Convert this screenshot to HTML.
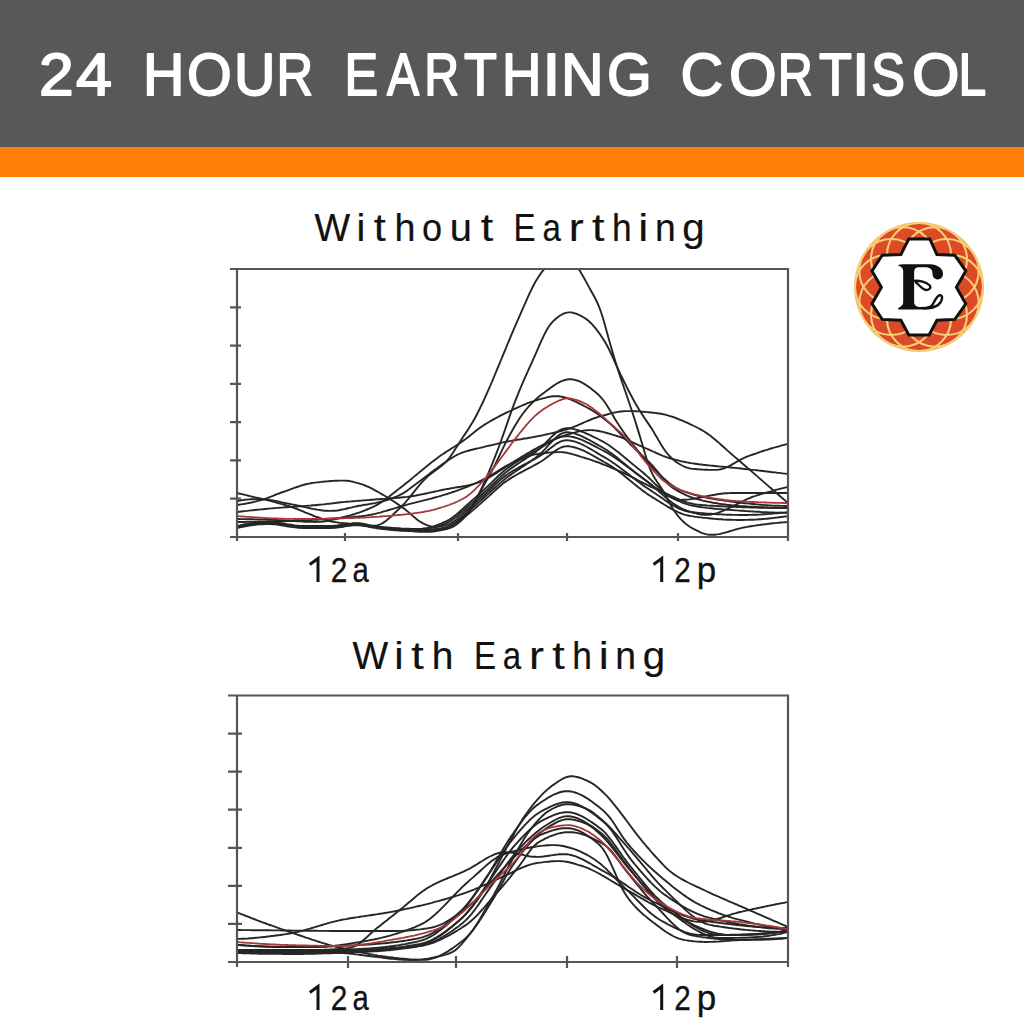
<!DOCTYPE html>
<html><head><meta charset="utf-8">
<style>
html,body{margin:0;padding:0;background:#fff;}
body{width:1024px;height:1024px;overflow:hidden;position:relative;}
svg{position:absolute;left:0;top:0;}
</style></head>
<body>
<svg width="1024" height="1024" viewBox="0 0 1024 1024">
<defs>
<clipPath id="lc"><circle cx="919" cy="287" r="64"/></clipPath>
</defs>
<rect x="0" y="0" width="1024" height="1024" fill="#fff"/>
<rect x="0" y="0" width="1024" height="147" fill="#585858"/>
<rect x="0" y="147" width="1024" height="30" fill="#fd7f05"/>
<g font-family="'Liberation Sans', sans-serif" font-size="59" fill="#fff" stroke="#fff" stroke-width="1.8" stroke-linejoin="round">
<text transform="translate(38.9,95) scale(1.057,1)">2</text>
<text transform="translate(75.9,95) scale(1.097,1)">4</text>
<text transform="translate(143.1,95) scale(0.971,1)">H</text>
<text transform="translate(187.0,95) scale(0.976,1)">O</text>
<text transform="translate(234.1,95) scale(0.971,1)">U</text>
<text transform="translate(276.6,95) scale(0.861,1)">R</text>
<text transform="translate(344.4,95) scale(0.855,1)">E</text>
<text transform="translate(387.0,95) scale(0.817,1)">A</text>
<text transform="translate(424.2,95) scale(0.819,1)">R</text>
<text transform="translate(464.1,95) scale(0.912,1)">T</text>
<text transform="translate(501.9,95) scale(0.924,1)">H</text>
<text transform="translate(542.6,95) scale(1.086,1)">I</text>
<text transform="translate(561.0,95) scale(1.000,1)">N</text>
<text transform="translate(607.0,95) scale(0.975,1)">G</text>
<text transform="translate(680.5,95) scale(1.003,1)">C</text>
<text transform="translate(728.9,95) scale(1.040,1)">O</text>
<text transform="translate(777.7,95) scale(0.822,1)">R</text>
<text transform="translate(819.1,95) scale(0.912,1)">T</text>
<text transform="translate(852.1,95) scale(1.071,1)">I</text>
<text transform="translate(871.3,95) scale(0.857,1)">S</text>
<text transform="translate(911.9,95) scale(1.036,1)">O</text>
<text transform="translate(958.6,95) scale(0.843,1)">L</text>
</g>



<g font-family="'Liberation Sans', sans-serif" font-size="39" fill="#111" stroke="#111" stroke-width="0.2" >
<text transform="translate(314.40,240.6) scale(0.968,1)">W</text>
<text transform="translate(356.46,240.6) scale(1.020,1)">i</text>
<text transform="translate(373.80,240.6) scale(1.109,1)">t</text>
<text transform="translate(394.47,240.6) scale(0.967,1)">h</text>
<text transform="translate(422.07,240.6) scale(0.925,1)">o</text>
<text transform="translate(449.76,240.6) scale(1.022,1)">u</text>
<text transform="translate(480.82,240.6) scale(1.150,1)">t</text>
<text transform="translate(513.60,240.6) scale(0.850,1)">E</text>
<text transform="translate(542.43,240.6) scale(0.850,1)">a</text>
<text transform="translate(568.67,240.6) scale(1.150,1)">r</text>
<text transform="translate(591.92,240.6) scale(1.150,1)">t</text>
<text transform="translate(611.89,240.6) scale(0.906,1)">h</text>
<text transform="translate(638.28,240.6) scale(1.150,1)">i</text>
<text transform="translate(654.89,240.6) scale(0.956,1)">n</text>
<text transform="translate(682.37,240.6) scale(1.032,1)">g</text>
</g>
<g font-family="'Liberation Sans', sans-serif" font-size="39" fill="#111" stroke="#111" stroke-width="0.2" >
<text transform="translate(352.50,669) scale(0.970,1)">W</text>
<text transform="translate(394.14,669) scale(1.080,1)">i</text>
<text transform="translate(411.28,669) scale(1.150,1)">t</text>
<text transform="translate(431.76,669) scale(0.997,1)">h</text>
<text transform="translate(474.00,669) scale(0.850,1)">E</text>
<text transform="translate(502.82,669) scale(0.850,1)">a</text>
<text transform="translate(529.08,669) scale(1.150,1)">r</text>
<text transform="translate(552.32,669) scale(1.150,1)">t</text>
<text transform="translate(572.29,669) scale(0.906,1)">h</text>
<text transform="translate(598.67,669) scale(1.150,1)">i</text>
<text transform="translate(615.29,669) scale(0.956,1)">n</text>
<text transform="translate(642.77,669) scale(1.032,1)">g</text>
</g>
<g font-family="'Liberation Sans', sans-serif" font-size="34.5" fill="#111" stroke="#111" stroke-width="0.3" >
<text transform="translate(330.64,582) scale(0.865,1)">2</text>
<text transform="translate(352.62,582) scale(0.850,1)">a</text>
<text transform="translate(674.14,582) scale(0.859,1)">2</text>
<text transform="translate(696.77,582) scale(1.013,1)">p</text>
</g>
<path d="M309.8,564.5 L318,558.5 V582 M653.5,564.5 L661.7,558.5 V582" stroke="#111" stroke-width="3" fill="none"/>
<g font-family="'Liberation Sans', sans-serif" font-size="34.5" fill="#111" stroke="#111" stroke-width="0.3" >
<text transform="translate(330.64,1010) scale(0.865,1)">2</text>
<text transform="translate(352.62,1010) scale(0.850,1)">a</text>
<text transform="translate(674.14,1010) scale(0.859,1)">2</text>
<text transform="translate(696.77,1010) scale(1.013,1)">p</text>
</g>
<path d="M309.8,992.5 L318,986.5 V1010 M653.5,992.5 L661.7,986.5 V1010" stroke="#111" stroke-width="3" fill="none"/>
<!-- chart 1 -->
<clipPath id="c1"><rect x="237" y="269" width="551" height="268"/></clipPath>
<g clip-path="url(#c1)" fill="none" stroke-linejoin="round" stroke-linecap="round">
<path d="M237.0,526.0 L239.0,525.6 L241.0,525.1 L243.0,524.7 L245.0,524.3 L247.0,524.0 L249.0,523.6 L251.0,523.3 L253.0,523.1 L255.0,522.8 L257.0,522.6 L259.0,522.4 L261.0,522.3 L263.0,522.2 L265.0,522.1 L267.0,522.1 L269.0,522.1 L271.0,522.1 L273.0,522.2 L275.0,522.4 L277.0,522.6 L279.0,522.9 L281.0,523.2 L283.0,523.5 L285.0,523.8 L287.0,524.2 L289.0,524.5 L291.0,524.8 L293.0,525.1 L295.0,525.4 L297.0,525.6 L299.0,525.8 L301.0,525.9 L303.0,526.0 L305.0,526.0 L307.0,526.0 L309.0,526.0 L311.0,526.0 L313.0,526.0 L315.0,526.0 L317.0,526.0 L319.0,526.0 L321.0,526.0 L323.0,526.0 L325.0,526.0 L327.0,526.0 L329.0,526.0 L331.0,526.0 L333.0,525.9 L335.0,525.7 L337.0,525.6 L339.0,525.3 L341.0,525.0 L343.0,524.7 L345.0,524.4 L347.0,524.1 L349.0,523.8 L351.0,523.6 L353.0,523.3 L355.0,523.2 L357.0,523.1 L359.0,523.2 L361.0,523.4 L363.0,523.7 L365.0,524.2 L367.0,524.6 L369.0,525.1 L371.0,525.4 L373.0,525.7 L375.0,525.7 L377.0,525.4 L379.0,524.9 L381.0,524.0 L383.0,522.9 L385.0,521.6 L387.0,520.0 L389.0,518.3 L391.0,516.5 L393.0,514.6 L395.0,512.7 L397.0,510.8 L399.0,508.9 L401.0,507.0 L403.0,504.9 L405.0,502.8 L407.0,500.5 L409.0,498.1 L411.0,495.7 L413.0,493.2 L415.0,490.7 L417.0,488.2 L419.0,485.7 L421.0,483.4 L423.0,481.1 L425.0,479.1 L427.0,477.1 L429.0,475.4 L431.0,473.7 L433.0,472.2 L435.0,470.8 L437.0,469.3 L439.0,467.8 L441.0,466.3 L443.0,464.6 L445.0,462.7 L447.0,460.6 L449.0,458.3 L451.0,455.6 L453.0,452.7 L455.0,449.6 L457.0,446.4 L459.0,443.3 L461.0,440.2 L463.0,437.1 L465.0,434.1 L467.0,431.1 L469.0,428.0 L471.0,424.8 L473.0,421.5 L475.0,418.0 L477.0,414.2 L479.0,410.3 L481.0,406.2 L483.0,402.0 L485.0,397.7 L487.0,393.2 L489.0,388.7 L491.0,384.0 L493.0,379.3 L495.0,374.5 L497.0,369.6 L499.0,364.8 L501.0,360.0 L503.0,355.2 L505.0,350.3 L507.0,345.5 L509.0,340.6 L511.0,335.8 L513.0,331.1 L515.0,326.4 L517.0,321.8 L519.0,317.3 L521.0,312.7 L523.0,308.2 L525.0,303.7 L527.0,299.1 L529.0,294.6 L531.0,290.3 L533.0,286.3 L535.0,282.6 L537.0,279.2 L539.0,276.1 L541.0,273.2 L543.0,270.6 L545.0,268.2 L547.0,266.1 L549.0,264.2 L551.0,262.4 L553.0,261.0 L555.0,259.8 L557.0,258.8 L559.0,258.1 L561.0,257.6 L563.0,257.4 L565.0,257.5 L567.0,257.9 L569.0,258.7 L571.0,259.9 L573.0,261.6 L575.0,263.8 L577.0,266.5 L579.0,269.5 L581.0,272.8 L583.0,276.2 L585.0,279.8 L587.0,283.4 L589.0,287.1 L591.0,290.7 L593.0,294.3 L595.0,298.0 L597.0,302.0 L599.0,306.6 L601.0,312.0 L603.0,318.2 L605.0,325.2 L607.0,332.4 L609.0,339.7 L611.0,346.7 L613.0,353.6 L615.0,360.3 L617.0,366.7 L619.0,372.9 L621.0,378.9 L623.0,384.8 L625.0,390.5 L627.0,396.3 L629.0,402.2 L631.0,408.2 L633.0,414.3 L635.0,420.5 L637.0,426.9 L639.0,433.4 L641.0,440.0 L643.0,446.8 L645.0,453.6 L647.0,460.2 L649.0,466.1 L651.0,471.1 L653.0,475.2 L655.0,478.6 L657.0,481.7 L659.0,484.6 L661.0,487.6 L663.0,490.8 L665.0,494.2 L667.0,498.0 L669.0,501.8 L671.0,505.5 L673.0,508.9 L675.0,512.0 L677.0,514.6 L679.0,517.1 L681.0,519.3 L683.0,521.3 L685.0,523.2 L687.0,524.8 L689.0,526.2 L691.0,527.5 L693.0,528.6 L695.0,529.7 L697.0,530.7 L699.0,531.7 L701.0,532.6 L703.0,533.3 L705.0,533.9 L707.0,534.4 L709.0,534.7 L711.0,534.8 L713.0,534.8 L715.0,534.7 L717.0,534.4 L719.0,534.1 L721.0,533.7 L723.0,533.2 L725.0,532.7 L727.0,532.1 L729.0,531.5 L731.0,530.9 L733.0,530.3 L735.0,529.7 L737.0,529.1 L739.0,528.6 L741.0,528.1 L743.0,527.6 L745.0,527.2 L747.0,526.9 L749.0,526.5 L751.0,526.2 L753.0,525.9 L755.0,525.6 L757.0,525.3 L759.0,525.1 L761.0,524.8 L763.0,524.5 L765.0,524.2 L767.0,524.0 L769.0,523.7 L771.0,523.5 L773.0,523.3 L775.0,523.1 L777.0,522.9 L779.0,522.7 L781.0,522.5 L783.0,522.4 L785.0,522.2 L787.0,522.1 L788.0,522.0" stroke="#262626" stroke-width="1.9"/>
<path d="M237.0,527.0 L239.0,526.6 L241.0,526.1 L243.0,525.7 L245.0,525.3 L247.0,525.0 L249.0,524.6 L251.0,524.3 L253.0,524.1 L255.0,523.8 L257.0,523.6 L259.0,523.4 L261.0,523.3 L263.0,523.2 L265.0,523.1 L267.0,523.1 L269.0,523.1 L271.0,523.1 L273.0,523.2 L275.0,523.4 L277.0,523.6 L279.0,523.9 L281.0,524.2 L283.0,524.5 L285.0,524.8 L287.0,525.2 L289.0,525.5 L291.0,525.8 L293.0,526.1 L295.0,526.4 L297.0,526.6 L299.0,526.8 L301.0,526.9 L303.0,527.0 L305.0,527.0 L307.0,527.0 L309.0,527.0 L311.0,527.0 L313.0,527.0 L315.0,527.0 L317.0,527.0 L319.0,527.0 L321.0,527.0 L323.0,527.0 L325.0,527.0 L327.0,527.0 L329.0,527.0 L331.0,527.0 L333.0,526.9 L335.0,526.7 L337.0,526.6 L339.0,526.3 L341.0,526.0 L343.0,525.7 L345.0,525.4 L347.0,525.1 L349.0,524.8 L351.0,524.6 L353.0,524.3 L355.0,524.2 L357.0,524.1 L359.0,524.2 L361.0,524.4 L363.0,524.6 L365.0,525.0 L367.0,525.4 L369.0,525.9 L371.0,526.3 L373.0,526.6 L375.0,526.9 L377.0,527.1 L379.0,527.3 L381.0,527.4 L383.0,527.6 L385.0,527.7 L387.0,527.8 L389.0,528.0 L391.0,528.1 L393.0,528.3 L395.0,528.5 L397.0,528.8 L399.0,529.0 L401.0,529.3 L403.0,529.5 L405.0,529.8 L407.0,530.0 L409.0,530.3 L411.0,530.5 L413.0,530.6 L415.0,530.8 L417.0,530.9 L419.0,530.9 L421.0,531.0 L423.0,530.9 L425.0,530.9 L427.0,530.8 L429.0,530.8 L431.0,530.7 L433.0,530.5 L435.0,530.4 L437.0,530.2 L439.0,530.0 L441.0,529.6 L443.0,529.1 L445.0,528.4 L447.0,527.5 L449.0,526.5 L451.0,525.4 L453.0,524.2 L455.0,523.0 L457.0,521.7 L459.0,520.4 L461.0,519.0 L463.0,517.4 L465.0,515.6 L467.0,513.5 L469.0,511.1 L471.0,508.2 L473.0,505.0 L475.0,501.5 L477.0,497.7 L479.0,493.8 L481.0,489.7 L483.0,485.4 L485.0,480.9 L487.0,476.3 L489.0,471.6 L491.0,466.8 L493.0,461.9 L495.0,456.9 L497.0,451.7 L499.0,446.5 L501.0,441.0 L503.0,435.4 L505.0,429.7 L507.0,423.9 L509.0,418.1 L511.0,412.4 L513.0,406.9 L515.0,401.7 L517.0,396.6 L519.0,391.7 L521.0,386.9 L523.0,382.2 L525.0,377.7 L527.0,373.2 L529.0,368.7 L531.0,364.3 L533.0,359.9 L535.0,355.4 L537.0,350.8 L539.0,346.2 L541.0,341.7 L543.0,337.3 L545.0,333.2 L547.0,329.5 L549.0,326.3 L551.0,323.6 L553.0,321.4 L555.0,319.5 L557.0,317.8 L559.0,316.3 L561.0,315.0 L563.0,313.9 L565.0,313.1 L567.0,312.6 L569.0,312.4 L571.0,312.4 L573.0,312.8 L575.0,313.3 L577.0,314.0 L579.0,314.9 L581.0,315.9 L583.0,317.0 L585.0,318.2 L587.0,319.6 L589.0,321.3 L591.0,323.2 L593.0,325.3 L595.0,327.7 L597.0,330.2 L599.0,332.8 L601.0,335.7 L603.0,338.7 L605.0,342.0 L607.0,345.5 L609.0,349.4 L611.0,353.5 L613.0,357.9 L615.0,362.4 L617.0,366.8 L619.0,371.1 L621.0,375.3 L623.0,379.5 L625.0,383.5 L627.0,387.6 L629.0,391.5 L631.0,395.3 L633.0,399.0 L635.0,402.7 L637.0,406.1 L639.0,409.5 L641.0,412.6 L643.0,415.7 L645.0,418.7 L647.0,421.6 L649.0,424.6 L651.0,427.6 L653.0,430.8 L655.0,434.2 L657.0,437.6 L659.0,441.1 L661.0,444.4 L663.0,447.6 L665.0,450.5 L667.0,453.2 L669.0,455.5 L671.0,457.5 L673.0,459.4 L675.0,461.0 L677.0,462.5 L679.0,463.8 L681.0,465.0 L683.0,466.0 L685.0,467.0 L687.0,467.7 L689.0,468.2 L691.0,468.6 L693.0,468.9 L695.0,469.0 L697.0,469.2 L699.0,469.4 L701.0,469.5 L703.0,469.6 L705.0,469.7 L707.0,469.8 L709.0,469.9 L711.0,469.9 L713.0,469.9 L715.0,469.9 L717.0,469.9 L719.0,469.6 L721.0,469.3 L723.0,468.7 L725.0,468.0 L727.0,467.1 L729.0,466.1 L731.0,465.1 L733.0,463.9 L735.0,462.8 L737.0,461.6 L739.0,460.5 L741.0,459.4 L743.0,458.4 L745.0,457.5 L747.0,456.7 L749.0,455.9 L751.0,455.2 L753.0,454.5 L755.0,453.8 L757.0,453.1 L759.0,452.4 L761.0,451.7 L763.0,451.0 L765.0,450.4 L767.0,449.8 L769.0,449.1 L771.0,448.5 L773.0,447.9 L775.0,447.4 L777.0,446.8 L779.0,446.3 L781.0,445.7 L783.0,445.2 L785.0,444.7 L787.0,444.2 L788.0,444.0" stroke="#262626" stroke-width="1.9"/>
<path d="M237.0,527.5 L239.0,527.1 L241.0,526.6 L243.0,526.2 L245.0,525.8 L247.0,525.5 L249.0,525.1 L251.0,524.8 L253.0,524.6 L255.0,524.3 L257.0,524.1 L259.0,523.9 L261.0,523.8 L263.0,523.7 L265.0,523.6 L267.0,523.6 L269.0,523.6 L271.0,523.6 L273.0,523.7 L275.0,523.9 L277.0,524.1 L279.0,524.4 L281.0,524.7 L283.0,525.0 L285.0,525.3 L287.0,525.7 L289.0,526.0 L291.0,526.3 L293.0,526.6 L295.0,526.9 L297.0,527.1 L299.0,527.3 L301.0,527.4 L303.0,527.5 L305.0,527.5 L307.0,527.5 L309.0,527.5 L311.0,527.5 L313.0,527.5 L315.0,527.5 L317.0,527.5 L319.0,527.5 L321.0,527.5 L323.0,527.5 L325.0,527.5 L327.0,527.5 L329.0,527.5 L331.0,527.5 L333.0,527.4 L335.0,527.2 L337.0,527.1 L339.0,526.8 L341.0,526.5 L343.0,526.2 L345.0,525.9 L347.0,525.6 L349.0,525.3 L351.0,525.1 L353.0,524.8 L355.0,524.7 L357.0,524.6 L359.0,524.7 L361.0,524.8 L363.0,525.1 L365.0,525.5 L367.0,525.9 L369.0,526.3 L371.0,526.7 L373.0,527.1 L375.0,527.4 L377.0,527.7 L379.0,528.0 L381.0,528.2 L383.0,528.4 L385.0,528.6 L387.0,528.8 L389.0,529.0 L391.0,529.2 L393.0,529.4 L395.0,529.6 L397.0,529.7 L399.0,529.9 L401.0,530.1 L403.0,530.3 L405.0,530.5 L407.0,530.7 L409.0,530.9 L411.0,531.1 L413.0,531.3 L415.0,531.5 L417.0,531.6 L419.0,531.8 L421.0,531.9 L423.0,531.9 L425.0,531.9 L427.0,531.9 L429.0,531.8 L431.0,531.7 L433.0,531.5 L435.0,531.2 L437.0,530.9 L439.0,530.5 L441.0,530.2 L443.0,529.7 L445.0,529.3 L447.0,528.7 L449.0,528.2 L451.0,527.4 L453.0,526.6 L455.0,525.4 L457.0,524.1 L459.0,522.5 L461.0,520.8 L463.0,518.8 L465.0,516.7 L467.0,514.4 L469.0,511.9 L471.0,509.0 L473.0,505.7 L475.0,502.0 L477.0,498.1 L479.0,494.2 L481.0,490.4 L483.0,486.8 L485.0,483.2 L487.0,479.7 L489.0,476.2 L491.0,472.5 L493.0,468.8 L495.0,464.8 L497.0,460.7 L499.0,456.5 L501.0,452.3 L503.0,448.1 L505.0,444.1 L507.0,440.2 L509.0,436.4 L511.0,432.7 L513.0,429.2 L515.0,425.7 L517.0,422.4 L519.0,419.3 L521.0,416.3 L523.0,413.5 L525.0,410.9 L527.0,408.5 L529.0,406.2 L531.0,404.1 L533.0,402.0 L535.0,400.1 L537.0,398.3 L539.0,396.6 L541.0,395.1 L543.0,393.5 L545.0,392.0 L547.0,390.5 L549.0,389.0 L551.0,387.5 L553.0,386.1 L555.0,384.8 L557.0,383.5 L559.0,382.4 L561.0,381.4 L563.0,380.6 L565.0,380.0 L567.0,379.5 L569.0,379.3 L571.0,379.3 L573.0,379.5 L575.0,379.9 L577.0,380.5 L579.0,381.2 L581.0,382.2 L583.0,383.2 L585.0,384.4 L587.0,385.7 L589.0,387.1 L591.0,388.6 L593.0,390.2 L595.0,391.8 L597.0,393.4 L599.0,395.3 L601.0,397.4 L603.0,399.8 L605.0,402.5 L607.0,405.5 L609.0,408.7 L611.0,412.1 L613.0,415.5 L615.0,418.9 L617.0,422.2 L619.0,425.3 L621.0,428.3 L623.0,431.2 L625.0,434.0 L627.0,436.7 L629.0,439.4 L631.0,442.1 L633.0,444.7 L635.0,447.2 L637.0,449.7 L639.0,452.2 L641.0,454.6 L643.0,457.0 L645.0,459.3 L647.0,461.6 L649.0,463.8 L651.0,465.9 L653.0,468.0 L655.0,470.0 L657.0,471.9 L659.0,473.8 L661.0,475.7 L663.0,477.6 L665.0,479.4 L667.0,481.2 L669.0,482.9 L671.0,484.4 L673.0,485.9 L675.0,487.2 L677.0,488.4 L679.0,489.4 L681.0,490.3 L683.0,491.1 L685.0,491.8 L687.0,492.5 L689.0,493.2 L691.0,493.8 L693.0,494.4 L695.0,495.0 L697.0,495.5 L699.0,496.0 L701.0,496.5 L703.0,497.0 L705.0,497.4 L707.0,497.8 L709.0,498.2 L711.0,498.6 L713.0,498.9 L715.0,499.2 L717.0,499.6 L719.0,499.8 L721.0,500.1 L723.0,500.4 L725.0,500.7 L727.0,500.9 L729.0,501.2 L731.0,501.5 L733.0,501.7 L735.0,502.0 L737.0,502.2 L739.0,502.5 L741.0,502.7 L743.0,503.0 L745.0,503.2 L747.0,503.4 L749.0,503.6 L751.0,503.8 L753.0,504.0 L755.0,504.2 L757.0,504.4 L759.0,504.6 L761.0,504.8 L763.0,504.9 L765.0,505.1 L767.0,505.2 L769.0,505.4 L771.0,505.5 L773.0,505.6 L775.0,505.7 L777.0,505.8 L779.0,505.8 L781.0,505.9 L783.0,505.9 L785.0,506.0 L787.0,506.0 L788.0,506.0" stroke="#262626" stroke-width="1.9"/>
<path d="M237.0,519.0 L239.0,519.0 L241.0,519.1 L243.0,519.1 L245.0,519.1 L247.0,519.2 L249.0,519.2 L251.0,519.3 L253.0,519.3 L255.0,519.4 L257.0,519.4 L259.0,519.5 L261.0,519.5 L263.0,519.6 L265.0,519.6 L267.0,519.7 L269.0,519.8 L271.0,519.8 L273.0,519.9 L275.0,520.0 L277.0,520.0 L279.0,520.1 L281.0,520.2 L283.0,520.3 L285.0,520.4 L287.0,520.6 L289.0,520.7 L291.0,520.8 L293.0,520.9 L295.0,521.1 L297.0,521.2 L299.0,521.3 L301.0,521.4 L303.0,521.6 L305.0,521.7 L307.0,521.7 L309.0,521.8 L311.0,521.9 L313.0,521.9 L315.0,522.0 L317.0,521.9 L319.0,521.9 L321.0,521.7 L323.0,521.5 L325.0,521.3 L327.0,521.0 L329.0,520.6 L331.0,520.2 L333.0,519.7 L335.0,519.2 L337.0,518.8 L339.0,518.3 L341.0,517.7 L343.0,517.2 L345.0,516.7 L347.0,516.2 L349.0,515.7 L351.0,515.1 L353.0,514.5 L355.0,513.9 L357.0,513.2 L359.0,512.6 L361.0,511.9 L363.0,511.1 L365.0,510.3 L367.0,509.5 L369.0,508.7 L371.0,507.8 L373.0,506.9 L375.0,505.9 L377.0,504.8 L379.0,503.7 L381.0,502.4 L383.0,501.1 L385.0,499.7 L387.0,498.2 L389.0,496.7 L391.0,495.1 L393.0,493.5 L395.0,491.9 L397.0,490.3 L399.0,488.8 L401.0,487.2 L403.0,485.7 L405.0,484.1 L407.0,482.5 L409.0,480.9 L411.0,479.3 L413.0,477.6 L415.0,475.9 L417.0,474.3 L419.0,472.6 L421.0,471.0 L423.0,469.3 L425.0,467.7 L427.0,466.0 L429.0,464.4 L431.0,462.8 L433.0,461.3 L435.0,459.7 L437.0,458.2 L439.0,456.8 L441.0,455.3 L443.0,454.0 L445.0,452.6 L447.0,451.3 L449.0,450.1 L451.0,448.8 L453.0,447.5 L455.0,446.3 L457.0,445.0 L459.0,443.7 L461.0,442.3 L463.0,440.9 L465.0,439.5 L467.0,438.0 L469.0,436.4 L471.0,434.8 L473.0,433.2 L475.0,431.6 L477.0,430.1 L479.0,428.6 L481.0,427.1 L483.0,425.7 L485.0,424.4 L487.0,423.2 L489.0,422.0 L491.0,420.8 L493.0,419.7 L495.0,418.6 L497.0,417.5 L499.0,416.4 L501.0,415.4 L503.0,414.4 L505.0,413.4 L507.0,412.4 L509.0,411.5 L511.0,410.5 L513.0,409.6 L515.0,408.7 L517.0,407.8 L519.0,406.9 L521.0,406.0 L523.0,405.1 L525.0,404.3 L527.0,403.4 L529.0,402.7 L531.0,401.9 L533.0,401.3 L535.0,400.6 L537.0,400.0 L539.0,399.4 L541.0,398.9 L543.0,398.3 L545.0,397.8 L547.0,397.3 L549.0,396.9 L551.0,396.5 L553.0,396.3 L555.0,396.2 L557.0,396.2 L559.0,396.3 L561.0,396.6 L563.0,397.0 L565.0,397.5 L567.0,398.1 L569.0,398.9 L571.0,399.7 L573.0,400.5 L575.0,401.4 L577.0,402.4 L579.0,403.4 L581.0,404.4 L583.0,405.4 L585.0,406.5 L587.0,407.5 L589.0,408.6 L591.0,409.7 L593.0,410.9 L595.0,412.2 L597.0,413.5 L599.0,414.9 L601.0,416.4 L603.0,417.9 L605.0,419.5 L607.0,421.1 L609.0,422.8 L611.0,424.6 L613.0,426.4 L615.0,428.4 L617.0,430.4 L619.0,432.4 L621.0,434.5 L623.0,436.6 L625.0,438.8 L627.0,440.9 L629.0,442.9 L631.0,445.0 L633.0,446.9 L635.0,448.9 L637.0,450.8 L639.0,452.6 L641.0,454.5 L643.0,456.3 L645.0,458.2 L647.0,460.1 L649.0,462.0 L651.0,464.1 L653.0,466.2 L655.0,468.5 L657.0,470.9 L659.0,473.5 L661.0,476.0 L663.0,478.5 L665.0,480.9 L667.0,483.0 L669.0,484.9 L671.0,486.5 L673.0,487.9 L675.0,489.2 L677.0,490.4 L679.0,491.6 L681.0,492.7 L683.0,493.7 L685.0,494.7 L687.0,495.6 L689.0,496.4 L691.0,497.2 L693.0,497.9 L695.0,498.6 L697.0,499.2 L699.0,499.7 L701.0,500.2 L703.0,500.7 L705.0,501.1 L707.0,501.5 L709.0,501.9 L711.0,502.3 L713.0,502.7 L715.0,503.0 L717.0,503.3 L719.0,503.7 L721.0,504.0 L723.0,504.2 L725.0,504.5 L727.0,504.8 L729.0,505.0 L731.0,505.2 L733.0,505.4 L735.0,505.6 L737.0,505.8 L739.0,505.9 L741.0,506.1 L743.0,506.2 L745.0,506.3 L747.0,506.5 L749.0,506.6 L751.0,506.7 L753.0,506.8 L755.0,506.9 L757.0,507.0 L759.0,507.1 L761.0,507.2 L763.0,507.3 L765.0,507.4 L767.0,507.5 L769.0,507.6 L771.0,507.7 L773.0,507.7 L775.0,507.8 L777.0,507.9 L779.0,507.9 L781.0,507.9 L783.0,508.0 L785.0,508.0 L787.0,508.0 L788.0,508.0" stroke="#262626" stroke-width="1.9"/>
<path d="M237.0,501.0 L239.0,500.7 L241.0,500.3 L243.0,500.1 L245.0,499.8 L247.0,499.6 L249.0,499.4 L251.0,499.3 L253.0,499.2 L255.0,499.1 L257.0,499.1 L259.0,499.0 L261.0,499.1 L263.0,499.2 L265.0,499.3 L267.0,499.5 L269.0,499.8 L271.0,500.1 L273.0,500.5 L275.0,500.9 L277.0,501.3 L279.0,501.7 L281.0,502.2 L283.0,502.6 L285.0,503.0 L287.0,503.4 L289.0,503.8 L291.0,504.2 L293.0,504.6 L295.0,505.0 L297.0,505.4 L299.0,505.8 L301.0,506.2 L303.0,506.7 L305.0,507.1 L307.0,507.6 L309.0,508.0 L311.0,508.5 L313.0,508.9 L315.0,509.2 L317.0,509.6 L319.0,509.9 L321.0,510.2 L323.0,510.5 L325.0,510.7 L327.0,510.8 L329.0,510.9 L331.0,510.9 L333.0,510.8 L335.0,510.7 L337.0,510.5 L339.0,510.2 L341.0,509.8 L343.0,509.4 L345.0,509.0 L347.0,508.5 L349.0,508.0 L351.0,507.6 L353.0,507.1 L355.0,506.6 L357.0,506.2 L359.0,505.8 L361.0,505.5 L363.0,505.1 L365.0,504.8 L367.0,504.5 L369.0,504.1 L371.0,503.8 L373.0,503.4 L375.0,503.1 L377.0,502.6 L379.0,502.2 L381.0,501.7 L383.0,501.2 L385.0,500.6 L387.0,500.0 L389.0,499.4 L391.0,498.7 L393.0,497.9 L395.0,497.1 L397.0,496.3 L399.0,495.4 L401.0,494.4 L403.0,493.3 L405.0,492.1 L407.0,490.7 L409.0,489.3 L411.0,487.8 L413.0,486.3 L415.0,484.8 L417.0,483.3 L419.0,481.8 L421.0,480.3 L423.0,478.8 L425.0,477.2 L427.0,475.7 L429.0,474.2 L431.0,472.6 L433.0,471.1 L435.0,469.6 L437.0,468.2 L439.0,466.7 L441.0,465.3 L443.0,463.9 L445.0,462.5 L447.0,461.1 L449.0,459.8 L451.0,458.4 L453.0,457.2 L455.0,456.0 L457.0,454.9 L459.0,454.0 L461.0,453.1 L463.0,452.4 L465.0,451.7 L467.0,451.1 L469.0,450.5 L471.0,450.0 L473.0,449.5 L475.0,449.0 L477.0,448.5 L479.0,448.1 L481.0,447.6 L483.0,447.2 L485.0,446.7 L487.0,446.2 L489.0,445.7 L491.0,445.3 L493.0,444.8 L495.0,444.3 L497.0,443.8 L499.0,443.3 L501.0,442.9 L503.0,442.4 L505.0,442.0 L507.0,441.6 L509.0,441.2 L511.0,440.9 L513.0,440.5 L515.0,440.2 L517.0,439.8 L519.0,439.5 L521.0,439.2 L523.0,438.8 L525.0,438.5 L527.0,438.2 L529.0,437.8 L531.0,437.5 L533.0,437.1 L535.0,436.8 L537.0,436.4 L539.0,436.0 L541.0,435.6 L543.0,435.2 L545.0,434.7 L547.0,434.3 L549.0,433.9 L551.0,433.4 L553.0,433.0 L555.0,432.5 L557.0,432.0 L559.0,431.5 L561.0,431.0 L563.0,430.4 L565.0,429.8 L567.0,429.3 L569.0,428.6 L571.0,427.9 L573.0,427.2 L575.0,426.4 L577.0,425.6 L579.0,424.7 L581.0,423.8 L583.0,422.9 L585.0,422.0 L587.0,421.1 L589.0,420.3 L591.0,419.5 L593.0,418.7 L595.0,418.0 L597.0,417.3 L599.0,416.7 L601.0,416.2 L603.0,415.6 L605.0,415.0 L607.0,414.5 L609.0,413.9 L611.0,413.4 L613.0,412.9 L615.0,412.5 L617.0,412.1 L619.0,411.8 L621.0,411.5 L623.0,411.3 L625.0,411.1 L627.0,411.1 L629.0,411.1 L631.0,411.1 L633.0,411.1 L635.0,411.2 L637.0,411.3 L639.0,411.4 L641.0,411.6 L643.0,411.7 L645.0,411.9 L647.0,412.1 L649.0,412.3 L651.0,412.5 L653.0,412.7 L655.0,412.9 L657.0,413.2 L659.0,413.5 L661.0,413.8 L663.0,414.2 L665.0,414.7 L667.0,415.2 L669.0,415.8 L671.0,416.4 L673.0,417.0 L675.0,417.7 L677.0,418.5 L679.0,419.3 L681.0,420.1 L683.0,420.9 L685.0,421.8 L687.0,422.7 L689.0,423.6 L691.0,424.6 L693.0,425.5 L695.0,426.5 L697.0,427.5 L699.0,428.5 L701.0,429.6 L703.0,430.8 L705.0,432.0 L707.0,433.4 L709.0,434.8 L711.0,436.3 L713.0,437.9 L715.0,439.5 L717.0,441.2 L719.0,442.9 L721.0,444.7 L723.0,446.5 L725.0,448.3 L727.0,450.1 L729.0,451.9 L731.0,453.7 L733.0,455.4 L735.0,457.1 L737.0,458.8 L739.0,460.5 L741.0,462.2 L743.0,464.0 L745.0,465.7 L747.0,467.4 L749.0,469.1 L751.0,470.9 L753.0,472.6 L755.0,474.4 L757.0,476.1 L759.0,477.9 L761.0,479.6 L763.0,481.4 L765.0,483.1 L767.0,484.9 L769.0,486.6 L771.0,488.3 L773.0,490.1 L775.0,491.8 L777.0,493.5 L779.0,495.2 L781.0,497.0 L783.0,498.7 L785.0,500.4 L787.0,502.1 L788.0,503.0" stroke="#262626" stroke-width="1.9"/>
<path d="M237.0,512.0 L239.0,511.8 L241.0,511.5 L243.0,511.3 L245.0,511.1 L247.0,510.9 L249.0,510.6 L251.0,510.4 L253.0,510.2 L255.0,510.0 L257.0,509.8 L259.0,509.6 L261.0,509.4 L263.0,509.2 L265.0,509.0 L267.0,508.8 L269.0,508.6 L271.0,508.4 L273.0,508.3 L275.0,508.1 L277.0,507.9 L279.0,507.8 L281.0,507.6 L283.0,507.5 L285.0,507.3 L287.0,507.2 L289.0,507.0 L291.0,506.9 L293.0,506.8 L295.0,506.6 L297.0,506.5 L299.0,506.4 L301.0,506.2 L303.0,506.1 L305.0,505.9 L307.0,505.8 L309.0,505.6 L311.0,505.5 L313.0,505.3 L315.0,505.2 L317.0,505.0 L319.0,504.8 L321.0,504.6 L323.0,504.4 L325.0,504.2 L327.0,503.9 L329.0,503.7 L331.0,503.5 L333.0,503.2 L335.0,503.0 L337.0,502.7 L339.0,502.5 L341.0,502.3 L343.0,502.1 L345.0,501.9 L347.0,501.7 L349.0,501.6 L351.0,501.4 L353.0,501.2 L355.0,501.1 L357.0,500.9 L359.0,500.7 L361.0,500.6 L363.0,500.4 L365.0,500.3 L367.0,500.1 L369.0,500.0 L371.0,499.8 L373.0,499.7 L375.0,499.5 L377.0,499.3 L379.0,499.2 L381.0,499.0 L383.0,498.9 L385.0,498.8 L387.0,498.6 L389.0,498.5 L391.0,498.3 L393.0,498.2 L395.0,498.0 L397.0,497.9 L399.0,497.7 L401.0,497.5 L403.0,497.3 L405.0,497.1 L407.0,496.9 L409.0,496.6 L411.0,496.3 L413.0,496.0 L415.0,495.7 L417.0,495.3 L419.0,494.9 L421.0,494.5 L423.0,494.1 L425.0,493.7 L427.0,493.3 L429.0,492.8 L431.0,492.4 L433.0,492.0 L435.0,491.5 L437.0,491.1 L439.0,490.6 L441.0,490.2 L443.0,489.8 L445.0,489.4 L447.0,489.0 L449.0,488.7 L451.0,488.3 L453.0,488.0 L455.0,487.6 L457.0,487.3 L459.0,487.0 L461.0,486.7 L463.0,486.3 L465.0,486.0 L467.0,485.6 L469.0,485.2 L471.0,484.7 L473.0,484.2 L475.0,483.6 L477.0,482.9 L479.0,482.2 L481.0,481.3 L483.0,480.4 L485.0,479.5 L487.0,478.5 L489.0,477.4 L491.0,476.3 L493.0,475.1 L495.0,473.9 L497.0,472.6 L499.0,471.3 L501.0,469.9 L503.0,468.6 L505.0,467.3 L507.0,465.9 L509.0,464.7 L511.0,463.4 L513.0,462.2 L515.0,460.9 L517.0,459.7 L519.0,458.5 L521.0,457.2 L523.0,456.0 L525.0,454.8 L527.0,453.6 L529.0,452.5 L531.0,451.3 L533.0,450.2 L535.0,449.1 L537.0,448.0 L539.0,446.9 L541.0,445.9 L543.0,444.8 L545.0,443.7 L547.0,442.7 L549.0,441.7 L551.0,440.7 L553.0,439.8 L555.0,438.9 L557.0,438.1 L559.0,437.4 L561.0,436.7 L563.0,436.0 L565.0,435.4 L567.0,434.7 L569.0,434.1 L571.0,433.5 L573.0,432.9 L575.0,432.4 L577.0,431.8 L579.0,431.4 L581.0,431.0 L583.0,430.6 L585.0,430.4 L587.0,430.2 L589.0,430.1 L591.0,430.1 L593.0,430.2 L595.0,430.4 L597.0,430.7 L599.0,431.0 L601.0,431.5 L603.0,431.9 L605.0,432.5 L607.0,433.0 L609.0,433.6 L611.0,434.2 L613.0,434.8 L615.0,435.4 L617.0,436.0 L619.0,436.7 L621.0,437.4 L623.0,438.1 L625.0,438.9 L627.0,439.8 L629.0,440.7 L631.0,441.6 L633.0,442.5 L635.0,443.4 L637.0,444.4 L639.0,445.3 L641.0,446.2 L643.0,447.1 L645.0,448.0 L647.0,448.9 L649.0,449.7 L651.0,450.6 L653.0,451.5 L655.0,452.4 L657.0,453.3 L659.0,454.2 L661.0,455.1 L663.0,455.9 L665.0,456.6 L667.0,457.4 L669.0,458.0 L671.0,458.7 L673.0,459.2 L675.0,459.7 L677.0,460.2 L679.0,460.7 L681.0,461.2 L683.0,461.6 L685.0,462.0 L687.0,462.4 L689.0,462.7 L691.0,463.1 L693.0,463.4 L695.0,463.7 L697.0,464.0 L699.0,464.3 L701.0,464.5 L703.0,464.8 L705.0,465.0 L707.0,465.2 L709.0,465.4 L711.0,465.6 L713.0,465.8 L715.0,466.0 L717.0,466.2 L719.0,466.4 L721.0,466.6 L723.0,466.7 L725.0,466.9 L727.0,467.1 L729.0,467.3 L731.0,467.5 L733.0,467.7 L735.0,467.9 L737.0,468.1 L739.0,468.3 L741.0,468.5 L743.0,468.8 L745.0,469.0 L747.0,469.2 L749.0,469.4 L751.0,469.7 L753.0,469.9 L755.0,470.1 L757.0,470.3 L759.0,470.6 L761.0,470.8 L763.0,471.0 L765.0,471.3 L767.0,471.5 L769.0,471.7 L771.0,472.0 L773.0,472.2 L775.0,472.4 L777.0,472.7 L779.0,472.9 L781.0,473.1 L783.0,473.4 L785.0,473.6 L787.0,473.9 L788.0,474.0" stroke="#262626" stroke-width="1.9"/>
<path d="M237.0,505.0 L239.0,504.7 L241.0,504.4 L243.0,504.1 L245.0,503.8 L247.0,503.4 L249.0,503.0 L251.0,502.6 L253.0,502.2 L255.0,501.7 L257.0,501.2 L259.0,500.7 L261.0,500.1 L263.0,499.5 L265.0,498.8 L267.0,498.1 L269.0,497.3 L271.0,496.6 L273.0,495.8 L275.0,495.0 L277.0,494.2 L279.0,493.5 L281.0,492.7 L283.0,492.0 L285.0,491.3 L287.0,490.6 L289.0,489.9 L291.0,489.1 L293.0,488.4 L295.0,487.7 L297.0,487.0 L299.0,486.3 L301.0,485.6 L303.0,485.0 L305.0,484.5 L307.0,484.0 L309.0,483.6 L311.0,483.2 L313.0,482.9 L315.0,482.6 L317.0,482.4 L319.0,482.2 L321.0,481.9 L323.0,481.7 L325.0,481.5 L327.0,481.4 L329.0,481.2 L331.0,481.0 L333.0,480.9 L335.0,480.8 L337.0,480.7 L339.0,480.6 L341.0,480.6 L343.0,480.6 L345.0,480.6 L347.0,480.8 L349.0,481.0 L351.0,481.4 L353.0,481.8 L355.0,482.3 L357.0,482.9 L359.0,483.4 L361.0,484.1 L363.0,484.7 L365.0,485.5 L367.0,486.3 L369.0,487.2 L371.0,488.2 L373.0,489.2 L375.0,490.3 L377.0,491.4 L379.0,492.5 L381.0,493.7 L383.0,494.8 L385.0,496.0 L387.0,497.2 L389.0,498.4 L391.0,499.7 L393.0,501.0 L395.0,502.3 L397.0,503.6 L399.0,505.0 L401.0,506.4 L403.0,507.9 L405.0,509.3 L407.0,510.9 L409.0,512.6 L411.0,514.3 L413.0,516.1 L415.0,517.8 L417.0,519.5 L419.0,521.0 L421.0,522.2 L423.0,523.3 L425.0,524.3 L427.0,525.2 L429.0,525.8 L431.0,526.4 L433.0,526.6 L435.0,526.7 L437.0,526.4 L439.0,526.0 L441.0,525.4 L443.0,524.6 L445.0,523.8 L447.0,522.9 L449.0,521.8 L451.0,520.6 L453.0,519.3 L455.0,517.8 L457.0,516.2 L459.0,514.5 L461.0,512.7 L463.0,511.0 L465.0,509.2 L467.0,507.5 L469.0,505.8 L471.0,504.1 L473.0,502.4 L475.0,500.7 L477.0,498.9 L479.0,497.1 L481.0,495.3 L483.0,493.5 L485.0,491.7 L487.0,489.9 L489.0,488.0 L491.0,486.1 L493.0,484.2 L495.0,482.3 L497.0,480.3 L499.0,478.4 L501.0,476.6 L503.0,474.8 L505.0,473.1 L507.0,471.5 L509.0,470.0 L511.0,468.5 L513.0,467.1 L515.0,465.7 L517.0,464.4 L519.0,463.0 L521.0,461.7 L523.0,460.4 L525.0,459.1 L527.0,457.8 L529.0,456.5 L531.0,455.2 L533.0,453.8 L535.0,452.4 L537.0,450.9 L539.0,449.2 L541.0,447.5 L543.0,445.6 L545.0,443.6 L547.0,441.5 L549.0,439.5 L551.0,437.4 L553.0,435.5 L555.0,433.7 L557.0,432.1 L559.0,430.7 L561.0,429.7 L563.0,428.9 L565.0,428.4 L567.0,428.3 L569.0,428.3 L571.0,428.5 L573.0,428.9 L575.0,429.4 L577.0,429.9 L579.0,430.5 L581.0,431.3 L583.0,432.0 L585.0,432.9 L587.0,433.8 L589.0,434.7 L591.0,435.6 L593.0,436.6 L595.0,437.6 L597.0,438.5 L599.0,439.5 L601.0,440.6 L603.0,441.6 L605.0,442.8 L607.0,444.0 L609.0,445.3 L611.0,446.7 L613.0,448.2 L615.0,449.7 L617.0,451.3 L619.0,452.8 L621.0,454.5 L623.0,456.1 L625.0,457.8 L627.0,459.5 L629.0,461.1 L631.0,462.8 L633.0,464.4 L635.0,466.1 L637.0,467.7 L639.0,469.2 L641.0,470.9 L643.0,472.5 L645.0,474.3 L647.0,476.1 L649.0,478.0 L651.0,479.9 L653.0,481.9 L655.0,483.9 L657.0,485.8 L659.0,487.7 L661.0,489.6 L663.0,491.3 L665.0,493.0 L667.0,494.5 L669.0,495.9 L671.0,497.1 L673.0,498.1 L675.0,498.9 L677.0,499.4 L679.0,499.7 L681.0,499.9 L683.0,499.8 L685.0,499.7 L687.0,499.6 L689.0,499.4 L691.0,499.1 L693.0,498.8 L695.0,498.5 L697.0,498.2 L699.0,497.8 L701.0,497.4 L703.0,497.0 L705.0,496.6 L707.0,496.2 L709.0,495.8 L711.0,495.4 L713.0,495.0 L715.0,494.7 L717.0,494.3 L719.0,494.0 L721.0,493.7 L723.0,493.5 L725.0,493.3 L727.0,493.2 L729.0,493.1 L731.0,493.0 L733.0,493.0 L735.0,493.0 L737.0,493.0 L739.0,493.0 L741.0,493.0 L743.0,493.0 L745.0,493.0 L747.0,493.0 L749.0,493.0 L751.0,493.0 L753.0,493.0 L755.0,493.0 L757.0,493.0 L759.0,493.0 L761.0,493.0 L763.0,493.0 L765.0,493.0 L767.0,493.0 L769.0,493.0 L771.0,493.0 L773.0,493.0 L775.0,493.0 L777.0,493.0 L779.0,493.0 L781.0,493.0 L783.0,493.0 L785.0,493.0 L787.0,493.0 L788.0,493.0" stroke="#262626" stroke-width="1.9"/>
<path d="M237.0,493.0 L239.0,493.5 L241.0,493.9 L243.0,494.4 L245.0,494.9 L247.0,495.3 L249.0,495.8 L251.0,496.3 L253.0,496.8 L255.0,497.3 L257.0,497.8 L259.0,498.2 L261.0,498.7 L263.0,499.2 L265.0,499.7 L267.0,500.2 L269.0,500.7 L271.0,501.2 L273.0,501.7 L275.0,502.2 L277.0,502.8 L279.0,503.3 L281.0,503.9 L283.0,504.4 L285.0,505.0 L287.0,505.6 L289.0,506.2 L291.0,506.9 L293.0,507.6 L295.0,508.3 L297.0,509.0 L299.0,509.8 L301.0,510.6 L303.0,511.4 L305.0,512.3 L307.0,513.1 L309.0,513.9 L311.0,514.7 L313.0,515.5 L315.0,516.3 L317.0,517.0 L319.0,517.7 L321.0,518.4 L323.0,519.1 L325.0,519.8 L327.0,520.4 L329.0,521.0 L331.0,521.4 L333.0,521.8 L335.0,522.1 L337.0,522.4 L339.0,522.7 L341.0,522.9 L343.0,523.1 L345.0,523.3 L347.0,523.5 L349.0,523.8 L351.0,524.0 L353.0,524.3 L355.0,524.5 L357.0,524.8 L359.0,525.1 L361.0,525.3 L363.0,525.6 L365.0,525.9 L367.0,526.1 L369.0,526.4 L371.0,526.6 L373.0,526.8 L375.0,527.0 L377.0,527.2 L379.0,527.4 L381.0,527.6 L383.0,527.7 L385.0,527.9 L387.0,528.1 L389.0,528.3 L391.0,528.5 L393.0,528.6 L395.0,528.8 L397.0,529.0 L399.0,529.1 L401.0,529.3 L403.0,529.4 L405.0,529.5 L407.0,529.6 L409.0,529.7 L411.0,529.8 L413.0,529.9 L415.0,529.9 L417.0,530.0 L419.0,530.0 L421.0,530.0 L423.0,529.9 L425.0,529.8 L427.0,529.7 L429.0,529.6 L431.0,529.4 L433.0,529.2 L435.0,529.0 L437.0,528.7 L439.0,528.4 L441.0,528.1 L443.0,527.7 L445.0,527.3 L447.0,526.8 L449.0,526.1 L451.0,525.2 L453.0,524.0 L455.0,522.7 L457.0,521.1 L459.0,519.4 L461.0,517.7 L463.0,516.0 L465.0,514.2 L467.0,512.5 L469.0,510.8 L471.0,509.2 L473.0,507.4 L475.0,505.7 L477.0,503.9 L479.0,502.1 L481.0,500.3 L483.0,498.5 L485.0,496.7 L487.0,494.9 L489.0,493.1 L491.0,491.3 L493.0,489.5 L495.0,487.7 L497.0,485.9 L499.0,484.1 L501.0,482.4 L503.0,480.7 L505.0,479.1 L507.0,477.5 L509.0,476.0 L511.0,474.6 L513.0,473.1 L515.0,471.8 L517.0,470.4 L519.0,469.1 L521.0,467.8 L523.0,466.4 L525.0,465.1 L527.0,463.8 L529.0,462.4 L531.0,461.1 L533.0,459.6 L535.0,458.2 L537.0,456.6 L539.0,455.0 L541.0,453.2 L543.0,451.2 L545.0,449.1 L547.0,446.9 L549.0,444.7 L551.0,442.5 L553.0,440.4 L555.0,438.4 L557.0,436.6 L559.0,435.1 L561.0,433.9 L563.0,433.0 L565.0,432.5 L567.0,432.3 L569.0,432.4 L571.0,432.6 L573.0,433.1 L575.0,433.6 L577.0,434.3 L579.0,435.1 L581.0,435.9 L583.0,436.8 L585.0,437.8 L587.0,438.9 L589.0,439.9 L591.0,441.0 L593.0,442.1 L595.0,443.3 L597.0,444.4 L599.0,445.5 L601.0,446.6 L603.0,447.8 L605.0,449.0 L607.0,450.3 L609.0,451.7 L611.0,453.1 L613.0,454.6 L615.0,456.1 L617.0,457.6 L619.0,459.2 L621.0,460.9 L623.0,462.5 L625.0,464.1 L627.0,465.8 L629.0,467.4 L631.0,469.0 L633.0,470.6 L635.0,472.2 L637.0,473.7 L639.0,475.2 L641.0,476.7 L643.0,478.2 L645.0,479.8 L647.0,481.3 L649.0,482.8 L651.0,484.3 L653.0,485.9 L655.0,487.4 L657.0,488.8 L659.0,490.3 L661.0,491.6 L663.0,492.9 L665.0,494.2 L667.0,495.3 L669.0,496.4 L671.0,497.4 L673.0,498.4 L675.0,499.3 L677.0,500.3 L679.0,501.1 L681.0,502.0 L683.0,502.8 L685.0,503.5 L687.0,504.2 L689.0,504.8 L691.0,505.3 L693.0,505.7 L695.0,506.1 L697.0,506.5 L699.0,506.8 L701.0,507.1 L703.0,507.4 L705.0,507.6 L707.0,507.9 L709.0,508.1 L711.0,508.3 L713.0,508.5 L715.0,508.7 L717.0,508.9 L719.0,509.1 L721.0,509.2 L723.0,509.4 L725.0,509.6 L727.0,509.7 L729.0,509.9 L731.0,510.0 L733.0,510.1 L735.0,510.3 L737.0,510.4 L739.0,510.6 L741.0,510.7 L743.0,510.8 L745.0,511.0 L747.0,511.1 L749.0,511.2 L751.0,511.4 L753.0,511.5 L755.0,511.6 L757.0,511.7 L759.0,511.8 L761.0,512.0 L763.0,512.1 L765.0,512.2 L767.0,512.3 L769.0,512.4 L771.0,512.5 L773.0,512.5 L775.0,512.6 L777.0,512.7 L779.0,512.8 L781.0,512.8 L783.0,512.9 L785.0,512.9 L787.0,513.0 L788.0,513.0" stroke="#262626" stroke-width="1.9"/>
<path d="M237.0,526.5 L239.0,526.1 L241.0,525.6 L243.0,525.2 L245.0,524.8 L247.0,524.5 L249.0,524.1 L251.0,523.8 L253.0,523.6 L255.0,523.3 L257.0,523.1 L259.0,522.9 L261.0,522.8 L263.0,522.7 L265.0,522.6 L267.0,522.6 L269.0,522.6 L271.0,522.6 L273.0,522.7 L275.0,522.9 L277.0,523.1 L279.0,523.4 L281.0,523.7 L283.0,524.0 L285.0,524.3 L287.0,524.7 L289.0,525.0 L291.0,525.3 L293.0,525.6 L295.0,525.9 L297.0,526.1 L299.0,526.3 L301.0,526.4 L303.0,526.5 L305.0,526.5 L307.0,526.5 L309.0,526.5 L311.0,526.5 L313.0,526.5 L315.0,526.5 L317.0,526.5 L319.0,526.5 L321.0,526.5 L323.0,526.5 L325.0,526.5 L327.0,526.5 L329.0,526.5 L331.0,526.5 L333.0,526.4 L335.0,526.2 L337.0,526.1 L339.0,525.8 L341.0,525.5 L343.0,525.2 L345.0,524.9 L347.0,524.6 L349.0,524.3 L351.0,524.1 L353.0,523.8 L355.0,523.7 L357.0,523.6 L359.0,523.7 L361.0,523.9 L363.0,524.1 L365.0,524.5 L367.0,524.9 L369.0,525.4 L371.0,525.8 L373.0,526.1 L375.0,526.4 L377.0,526.7 L379.0,526.9 L381.0,527.0 L383.0,527.2 L385.0,527.4 L387.0,527.5 L389.0,527.7 L391.0,527.8 L393.0,528.0 L395.0,528.1 L397.0,528.2 L399.0,528.3 L401.0,528.5 L403.0,528.6 L405.0,528.6 L407.0,528.7 L409.0,528.8 L411.0,528.9 L413.0,528.9 L415.0,528.9 L417.0,529.0 L419.0,528.9 L421.0,528.9 L423.0,528.7 L425.0,528.5 L427.0,528.2 L429.0,527.7 L431.0,527.2 L433.0,526.6 L435.0,525.9 L437.0,525.2 L439.0,524.4 L441.0,523.6 L443.0,522.7 L445.0,521.8 L447.0,520.9 L449.0,519.8 L451.0,518.5 L453.0,517.1 L455.0,515.6 L457.0,513.9 L459.0,512.2 L461.0,510.4 L463.0,508.6 L465.0,506.8 L467.0,505.0 L469.0,503.3 L471.0,501.5 L473.0,499.7 L475.0,497.9 L477.0,496.1 L479.0,494.3 L481.0,492.5 L483.0,490.6 L485.0,488.8 L487.0,486.9 L489.0,485.0 L491.0,483.1 L493.0,481.1 L495.0,479.2 L497.0,477.2 L499.0,475.3 L501.0,473.5 L503.0,471.7 L505.0,470.1 L507.0,468.6 L509.0,467.1 L511.0,465.7 L513.0,464.3 L515.0,462.9 L517.0,461.6 L519.0,460.4 L521.0,459.1 L523.0,457.9 L525.0,456.7 L527.0,455.6 L529.0,454.4 L531.0,453.3 L533.0,452.2 L535.0,451.1 L537.0,450.0 L539.0,448.8 L541.0,447.6 L543.0,446.4 L545.0,445.1 L547.0,443.8 L549.0,442.6 L551.0,441.4 L553.0,440.3 L555.0,439.2 L557.0,438.3 L559.0,437.5 L561.0,436.9 L563.0,436.5 L565.0,436.3 L567.0,436.2 L569.0,436.3 L571.0,436.6 L573.0,437.0 L575.0,437.5 L577.0,438.1 L579.0,438.8 L581.0,439.5 L583.0,440.4 L585.0,441.3 L587.0,442.3 L589.0,443.2 L591.0,444.3 L593.0,445.3 L595.0,446.4 L597.0,447.4 L599.0,448.5 L601.0,449.5 L603.0,450.5 L605.0,451.6 L607.0,452.7 L609.0,453.9 L611.0,455.2 L613.0,456.4 L615.0,457.8 L617.0,459.1 L619.0,460.5 L621.0,462.0 L623.0,463.4 L625.0,464.9 L627.0,466.4 L629.0,467.9 L631.0,469.5 L633.0,471.0 L635.0,472.5 L637.0,474.0 L639.0,475.5 L641.0,477.0 L643.0,478.5 L645.0,480.0 L647.0,481.6 L649.0,483.1 L651.0,484.8 L653.0,486.4 L655.0,488.1 L657.0,489.9 L659.0,491.6 L661.0,493.4 L663.0,495.1 L665.0,496.9 L667.0,498.5 L669.0,500.2 L671.0,501.7 L673.0,503.2 L675.0,504.6 L677.0,505.9 L679.0,507.1 L681.0,508.2 L683.0,509.1 L685.0,509.9 L687.0,510.7 L689.0,511.3 L691.0,512.0 L693.0,512.6 L695.0,513.2 L697.0,513.7 L699.0,514.1 L701.0,514.5 L703.0,514.7 L705.0,514.8 L707.0,514.8 L709.0,514.7 L711.0,514.5 L713.0,514.1 L715.0,513.6 L717.0,513.1 L719.0,512.4 L721.0,511.7 L723.0,510.9 L725.0,510.0 L727.0,509.1 L729.0,508.1 L731.0,507.2 L733.0,506.1 L735.0,505.1 L737.0,504.1 L739.0,503.1 L741.0,502.1 L743.0,501.1 L745.0,500.1 L747.0,499.2 L749.0,498.3 L751.0,497.5 L753.0,496.7 L755.0,496.1 L757.0,495.4 L759.0,494.8 L761.0,494.2 L763.0,493.6 L765.0,493.0 L767.0,492.4 L769.0,491.8 L771.0,491.3 L773.0,490.7 L775.0,490.2 L777.0,489.7 L779.0,489.2 L781.0,488.7 L783.0,488.2 L785.0,487.7 L787.0,487.2 L788.0,487.0" stroke="#262626" stroke-width="1.9"/>
<path d="M237.0,527.0 L239.0,526.6 L241.0,526.1 L243.0,525.7 L245.0,525.3 L247.0,525.0 L249.0,524.6 L251.0,524.3 L253.0,524.1 L255.0,523.8 L257.0,523.6 L259.0,523.4 L261.0,523.3 L263.0,523.2 L265.0,523.1 L267.0,523.1 L269.0,523.1 L271.0,523.1 L273.0,523.2 L275.0,523.4 L277.0,523.6 L279.0,523.9 L281.0,524.2 L283.0,524.5 L285.0,524.8 L287.0,525.2 L289.0,525.5 L291.0,525.8 L293.0,526.1 L295.0,526.4 L297.0,526.6 L299.0,526.8 L301.0,526.9 L303.0,527.0 L305.0,527.0 L307.0,527.0 L309.0,527.0 L311.0,527.0 L313.0,527.0 L315.0,527.0 L317.0,527.0 L319.0,527.0 L321.0,527.0 L323.0,527.0 L325.0,527.0 L327.0,527.0 L329.0,527.0 L331.0,527.0 L333.0,526.9 L335.0,526.7 L337.0,526.6 L339.0,526.3 L341.0,526.0 L343.0,525.7 L345.0,525.4 L347.0,525.1 L349.0,524.8 L351.0,524.6 L353.0,524.3 L355.0,524.2 L357.0,524.1 L359.0,524.2 L361.0,524.3 L363.0,524.6 L365.0,524.9 L367.0,525.3 L369.0,525.8 L371.0,526.2 L373.0,526.6 L375.0,527.0 L377.0,527.3 L379.0,527.6 L381.0,527.9 L383.0,528.3 L385.0,528.6 L387.0,528.9 L389.0,529.1 L391.0,529.4 L393.0,529.6 L395.0,529.7 L397.0,529.9 L399.0,529.9 L401.0,530.0 L403.0,530.0 L405.0,529.9 L407.0,529.9 L409.0,529.8 L411.0,529.7 L413.0,529.6 L415.0,529.5 L417.0,529.3 L419.0,529.1 L421.0,529.0 L423.0,528.8 L425.0,528.5 L427.0,528.3 L429.0,528.0 L431.0,527.8 L433.0,527.5 L435.0,527.2 L437.0,526.8 L439.0,526.5 L441.0,526.1 L443.0,525.8 L445.0,525.3 L447.0,524.8 L449.0,524.1 L451.0,523.1 L453.0,521.9 L455.0,520.5 L457.0,518.9 L459.0,517.1 L461.0,515.4 L463.0,513.6 L465.0,511.8 L467.0,510.0 L469.0,508.3 L471.0,506.6 L473.0,504.9 L475.0,503.2 L477.0,501.4 L479.0,499.6 L481.0,497.8 L483.0,496.0 L485.0,494.2 L487.0,492.4 L489.0,490.5 L491.0,488.7 L493.0,486.8 L495.0,484.8 L497.0,483.0 L499.0,481.1 L501.0,479.3 L503.0,477.7 L505.0,476.1 L507.0,474.7 L509.0,473.3 L511.0,472.0 L513.0,470.8 L515.0,469.6 L517.0,468.5 L519.0,467.3 L521.0,466.3 L523.0,465.2 L525.0,464.1 L527.0,463.1 L529.0,462.0 L531.0,461.0 L533.0,459.9 L535.0,458.8 L537.0,457.7 L539.0,456.5 L541.0,455.2 L543.0,453.9 L545.0,452.4 L547.0,450.9 L549.0,449.3 L551.0,447.7 L553.0,446.2 L555.0,444.7 L557.0,443.4 L559.0,442.3 L561.0,441.4 L563.0,440.7 L565.0,440.4 L567.0,440.3 L569.0,440.4 L571.0,440.7 L573.0,441.1 L575.0,441.6 L577.0,442.3 L579.0,443.1 L581.0,444.0 L583.0,444.9 L585.0,446.0 L587.0,447.0 L589.0,448.2 L591.0,449.3 L593.0,450.5 L595.0,451.7 L597.0,452.9 L599.0,454.1 L601.0,455.3 L603.0,456.4 L605.0,457.6 L607.0,458.8 L609.0,460.0 L611.0,461.3 L613.0,462.7 L615.0,464.0 L617.0,465.5 L619.0,467.0 L621.0,468.5 L623.0,470.0 L625.0,471.5 L627.0,473.1 L629.0,474.6 L631.0,476.2 L633.0,477.8 L635.0,479.3 L637.0,480.8 L639.0,482.3 L641.0,483.8 L643.0,485.3 L645.0,486.7 L647.0,488.0 L649.0,489.3 L651.0,490.6 L653.0,492.0 L655.0,493.3 L657.0,494.7 L659.0,496.0 L661.0,497.4 L663.0,498.8 L665.0,500.2 L667.0,501.6 L669.0,502.9 L671.0,504.1 L673.0,505.4 L675.0,506.5 L677.0,507.6 L679.0,508.6 L681.0,509.4 L683.0,510.2 L685.0,510.8 L687.0,511.4 L689.0,511.7 L691.0,512.1 L693.0,512.3 L695.0,512.5 L697.0,512.7 L699.0,512.9 L701.0,513.1 L703.0,513.2 L705.0,513.4 L707.0,513.6 L709.0,513.7 L711.0,513.8 L713.0,514.0 L715.0,514.1 L717.0,514.2 L719.0,514.3 L721.0,514.4 L723.0,514.5 L725.0,514.6 L727.0,514.7 L729.0,514.8 L731.0,514.8 L733.0,514.9 L735.0,514.9 L737.0,514.9 L739.0,515.0 L741.0,515.0 L743.0,515.0 L745.0,515.0 L747.0,515.0 L749.0,514.9 L751.0,514.9 L753.0,514.8 L755.0,514.7 L757.0,514.7 L759.0,514.6 L761.0,514.5 L763.0,514.3 L765.0,514.2 L767.0,514.1 L769.0,513.9 L771.0,513.8 L773.0,513.6 L775.0,513.4 L777.0,513.2 L779.0,513.0 L781.0,512.8 L783.0,512.6 L785.0,512.4 L787.0,512.1 L788.0,512.0" stroke="#262626" stroke-width="1.9"/>
<path d="M237.0,528.0 L239.0,527.6 L241.0,527.1 L243.0,526.7 L245.0,526.3 L247.0,526.0 L249.0,525.6 L251.0,525.3 L253.0,525.1 L255.0,524.8 L257.0,524.6 L259.0,524.4 L261.0,524.3 L263.0,524.2 L265.0,524.1 L267.0,524.1 L269.0,524.1 L271.0,524.1 L273.0,524.2 L275.0,524.4 L277.0,524.6 L279.0,524.9 L281.0,525.2 L283.0,525.5 L285.0,525.8 L287.0,526.2 L289.0,526.5 L291.0,526.8 L293.0,527.1 L295.0,527.4 L297.0,527.6 L299.0,527.8 L301.0,527.9 L303.0,528.0 L305.0,528.0 L307.0,528.0 L309.0,528.0 L311.0,528.0 L313.0,528.0 L315.0,528.0 L317.0,528.0 L319.0,528.0 L321.0,528.0 L323.0,528.0 L325.0,528.0 L327.0,528.0 L329.0,528.0 L331.0,528.0 L333.0,527.9 L335.0,527.7 L337.0,527.6 L339.0,527.3 L341.0,527.0 L343.0,526.7 L345.0,526.4 L347.0,526.1 L349.0,525.8 L351.0,525.6 L353.0,525.3 L355.0,525.2 L357.0,525.1 L359.0,525.2 L361.0,525.3 L363.0,525.6 L365.0,526.0 L367.0,526.4 L369.0,526.8 L371.0,527.2 L373.0,527.6 L375.0,527.9 L377.0,528.2 L379.0,528.5 L381.0,528.7 L383.0,529.0 L385.0,529.2 L387.0,529.4 L389.0,529.7 L391.0,529.9 L393.0,530.1 L395.0,530.2 L397.0,530.4 L399.0,530.6 L401.0,530.7 L403.0,530.8 L405.0,530.9 L407.0,530.9 L409.0,531.0 L411.0,531.0 L413.0,531.0 L415.0,531.0 L417.0,530.9 L419.0,530.9 L421.0,530.8 L423.0,530.7 L425.0,530.7 L427.0,530.6 L429.0,530.5 L431.0,530.4 L433.0,530.2 L435.0,530.1 L437.0,529.9 L439.0,529.8 L441.0,529.6 L443.0,529.4 L445.0,529.1 L447.0,528.8 L449.0,528.2 L451.0,527.4 L453.0,526.3 L455.0,525.0 L457.0,523.5 L459.0,521.9 L461.0,520.1 L463.0,518.4 L465.0,516.7 L467.0,515.0 L469.0,513.4 L471.0,511.8 L473.0,510.1 L475.0,508.4 L477.0,506.7 L479.0,504.9 L481.0,503.2 L483.0,501.4 L485.0,499.6 L487.0,497.9 L489.0,496.1 L491.0,494.3 L493.0,492.4 L495.0,490.6 L497.0,488.7 L499.0,487.0 L501.0,485.3 L503.0,483.6 L505.0,482.1 L507.0,480.7 L509.0,479.4 L511.0,478.1 L513.0,476.8 L515.0,475.7 L517.0,474.5 L519.0,473.4 L521.0,472.3 L523.0,471.3 L525.0,470.2 L527.0,469.2 L529.0,468.1 L531.0,467.1 L533.0,466.0 L535.0,464.9 L537.0,463.8 L539.0,462.7 L541.0,461.5 L543.0,460.2 L545.0,458.8 L547.0,457.3 L549.0,455.8 L551.0,454.2 L553.0,452.6 L555.0,451.1 L557.0,449.7 L559.0,448.5 L561.0,447.5 L563.0,446.8 L565.0,446.4 L567.0,446.3 L569.0,446.3 L571.0,446.6 L573.0,447.0 L575.0,447.5 L577.0,448.1 L579.0,448.8 L581.0,449.6 L583.0,450.4 L585.0,451.4 L587.0,452.4 L589.0,453.4 L591.0,454.5 L593.0,455.6 L595.0,456.8 L597.0,457.9 L599.0,459.1 L601.0,460.2 L603.0,461.3 L605.0,462.5 L607.0,463.6 L609.0,464.8 L611.0,466.0 L613.0,467.4 L615.0,468.7 L617.0,470.2 L619.0,471.7 L621.0,473.2 L623.0,474.8 L625.0,476.4 L627.0,478.0 L629.0,479.7 L631.0,481.3 L633.0,483.0 L635.0,484.6 L637.0,486.2 L639.0,487.8 L641.0,489.3 L643.0,490.9 L645.0,492.3 L647.0,493.7 L649.0,495.1 L651.0,496.3 L653.0,497.6 L655.0,498.8 L657.0,500.1 L659.0,501.3 L661.0,502.6 L663.0,503.8 L665.0,505.0 L667.0,506.3 L669.0,507.4 L671.0,508.6 L673.0,509.7 L675.0,510.7 L677.0,511.7 L679.0,512.6 L681.0,513.4 L683.0,514.2 L685.0,514.8 L687.0,515.3 L689.0,515.7 L691.0,516.1 L693.0,516.4 L695.0,516.7 L697.0,516.9 L699.0,517.2 L701.0,517.4 L703.0,517.7 L705.0,517.9 L707.0,518.1 L709.0,518.3 L711.0,518.5 L713.0,518.7 L715.0,518.9 L717.0,519.0 L719.0,519.2 L721.0,519.3 L723.0,519.5 L725.0,519.6 L727.0,519.7 L729.0,519.8 L731.0,519.8 L733.0,519.9 L735.0,519.9 L737.0,520.0 L739.0,520.0 L741.0,520.0 L743.0,520.0 L745.0,519.9 L747.0,519.9 L749.0,519.8 L751.0,519.8 L753.0,519.7 L755.0,519.6 L757.0,519.5 L759.0,519.3 L761.0,519.2 L763.0,519.0 L765.0,518.9 L767.0,518.7 L769.0,518.5 L771.0,518.3 L773.0,518.1 L775.0,517.8 L777.0,517.6 L779.0,517.3 L781.0,517.0 L783.0,516.8 L785.0,516.5 L787.0,516.2 L788.0,516.0" stroke="#262626" stroke-width="1.9"/>
<path d="M237.0,522.0 L239.0,522.0 L241.0,522.0 L243.0,522.0 L245.0,522.0 L247.0,521.9 L249.0,521.9 L251.0,521.9 L253.0,521.9 L255.0,521.8 L257.0,521.8 L259.0,521.8 L261.0,521.7 L263.0,521.7 L265.0,521.7 L267.0,521.6 L269.0,521.6 L271.0,521.5 L273.0,521.5 L275.0,521.4 L277.0,521.4 L279.0,521.3 L281.0,521.3 L283.0,521.2 L285.0,521.1 L287.0,521.1 L289.0,521.0 L291.0,521.0 L293.0,520.9 L295.0,520.8 L297.0,520.7 L299.0,520.7 L301.0,520.6 L303.0,520.5 L305.0,520.4 L307.0,520.3 L309.0,520.1 L311.0,520.0 L313.0,519.9 L315.0,519.8 L317.0,519.7 L319.0,519.5 L321.0,519.4 L323.0,519.2 L325.0,519.1 L327.0,519.0 L329.0,518.8 L331.0,518.7 L333.0,518.5 L335.0,518.4 L337.0,518.2 L339.0,518.1 L341.0,517.9 L343.0,517.8 L345.0,517.6 L347.0,517.5 L349.0,517.3 L351.0,517.1 L353.0,517.0 L355.0,516.8 L357.0,516.6 L359.0,516.4 L361.0,516.2 L363.0,515.9 L365.0,515.7 L367.0,515.4 L369.0,515.0 L371.0,514.7 L373.0,514.3 L375.0,513.8 L377.0,513.3 L379.0,512.8 L381.0,512.3 L383.0,511.7 L385.0,511.2 L387.0,510.6 L389.0,510.0 L391.0,509.4 L393.0,508.8 L395.0,508.2 L397.0,507.6 L399.0,507.0 L401.0,506.4 L403.0,505.8 L405.0,505.3 L407.0,504.7 L409.0,504.2 L411.0,503.7 L413.0,503.2 L415.0,502.7 L417.0,502.2 L419.0,501.7 L421.0,501.2 L423.0,500.6 L425.0,500.1 L427.0,499.6 L429.0,499.1 L431.0,498.6 L433.0,498.0 L435.0,497.5 L437.0,496.9 L439.0,496.4 L441.0,495.8 L443.0,495.2 L445.0,494.6 L447.0,494.0 L449.0,493.3 L451.0,492.7 L453.0,492.0 L455.0,491.3 L457.0,490.6 L459.0,489.9 L461.0,489.2 L463.0,488.4 L465.0,487.7 L467.0,486.9 L469.0,486.1 L471.0,485.2 L473.0,484.4 L475.0,483.5 L477.0,482.6 L479.0,481.6 L481.0,480.7 L483.0,479.6 L485.0,478.6 L487.0,477.5 L489.0,476.4 L491.0,475.2 L493.0,474.0 L495.0,472.8 L497.0,471.6 L499.0,470.3 L501.0,469.1 L503.0,467.8 L505.0,466.7 L507.0,465.6 L509.0,464.5 L511.0,463.6 L513.0,462.6 L515.0,461.7 L517.0,460.8 L519.0,459.9 L521.0,459.0 L523.0,458.2 L525.0,457.4 L527.0,456.7 L529.0,456.0 L531.0,455.4 L533.0,454.9 L535.0,454.4 L537.0,454.1 L539.0,453.8 L541.0,453.5 L543.0,453.2 L545.0,453.0 L547.0,452.8 L549.0,452.6 L551.0,452.4 L553.0,452.3 L555.0,452.2 L557.0,452.1 L559.0,452.1 L561.0,452.1 L563.0,452.3 L565.0,452.5 L567.0,452.8 L569.0,453.3 L571.0,453.7 L573.0,454.3 L575.0,454.9 L577.0,455.5 L579.0,456.1 L581.0,456.8 L583.0,457.4 L585.0,458.0 L587.0,458.6 L589.0,459.2 L591.0,459.9 L593.0,460.6 L595.0,461.3 L597.0,462.0 L599.0,462.7 L601.0,463.5 L603.0,464.3 L605.0,465.1 L607.0,465.9 L609.0,466.7 L611.0,467.5 L613.0,468.3 L615.0,469.2 L617.0,470.0 L619.0,470.9 L621.0,471.8 L623.0,472.7 L625.0,473.7 L627.0,474.7 L629.0,475.7 L631.0,476.7 L633.0,477.7 L635.0,478.7 L637.0,479.8 L639.0,480.8 L641.0,481.8 L643.0,482.9 L645.0,483.9 L647.0,484.9 L649.0,485.8 L651.0,486.8 L653.0,487.7 L655.0,488.6 L657.0,489.4 L659.0,490.3 L661.0,491.2 L663.0,492.1 L665.0,493.0 L667.0,493.9 L669.0,494.9 L671.0,495.8 L673.0,496.7 L675.0,497.6 L677.0,498.5 L679.0,499.3 L681.0,500.1 L683.0,500.9 L685.0,501.6 L687.0,502.3 L689.0,502.9 L691.0,503.4 L693.0,503.9 L695.0,504.3 L697.0,504.6 L699.0,504.8 L701.0,505.0 L703.0,505.2 L705.0,505.3 L707.0,505.5 L709.0,505.6 L711.0,505.7 L713.0,505.8 L715.0,505.9 L717.0,506.0 L719.0,506.2 L721.0,506.3 L723.0,506.4 L725.0,506.5 L727.0,506.6 L729.0,506.7 L731.0,506.7 L733.0,506.8 L735.0,506.9 L737.0,507.0 L739.0,507.1 L741.0,507.1 L743.0,507.2 L745.0,507.3 L747.0,507.4 L749.0,507.4 L751.0,507.5 L753.0,507.5 L755.0,507.6 L757.0,507.6 L759.0,507.7 L761.0,507.7 L763.0,507.8 L765.0,507.8 L767.0,507.8 L769.0,507.9 L771.0,507.9 L773.0,507.9 L775.0,507.9 L777.0,508.0 L779.0,508.0 L781.0,508.0 L783.0,508.0 L785.0,508.0 L787.0,508.0 L788.0,508.0" stroke="#262626" stroke-width="1.9"/>
<path d="M237.0,516.0 L239.0,516.2 L241.0,516.3 L243.0,516.5 L245.0,516.6 L247.0,516.8 L249.0,516.9 L251.0,517.1 L253.0,517.2 L255.0,517.4 L257.0,517.5 L259.0,517.6 L261.0,517.7 L263.0,517.9 L265.0,518.0 L267.0,518.1 L269.0,518.2 L271.0,518.3 L273.0,518.4 L275.0,518.5 L277.0,518.5 L279.0,518.6 L281.0,518.7 L283.0,518.7 L285.0,518.8 L287.0,518.8 L289.0,518.9 L291.0,518.9 L293.0,518.9 L295.0,519.0 L297.0,519.0 L299.0,519.0 L301.0,519.0 L303.0,519.0 L305.0,519.0 L307.0,519.0 L309.0,519.0 L311.0,518.9 L313.0,518.9 L315.0,518.9 L317.0,518.9 L319.0,518.8 L321.0,518.8 L323.0,518.8 L325.0,518.7 L327.0,518.7 L329.0,518.6 L331.0,518.6 L333.0,518.5 L335.0,518.5 L337.0,518.4 L339.0,518.4 L341.0,518.3 L343.0,518.3 L345.0,518.2 L347.0,518.2 L349.0,518.1 L351.0,518.1 L353.0,518.0 L355.0,517.9 L357.0,517.9 L359.0,517.8 L361.0,517.7 L363.0,517.6 L365.0,517.5 L367.0,517.4 L369.0,517.3 L371.0,517.2 L373.0,517.0 L375.0,516.9 L377.0,516.8 L379.0,516.7 L381.0,516.5 L383.0,516.4 L385.0,516.2 L387.0,516.1 L389.0,515.9 L391.0,515.8 L393.0,515.6 L395.0,515.4 L397.0,515.2 L399.0,515.0 L401.0,514.8 L403.0,514.6 L405.0,514.4 L407.0,514.2 L409.0,514.0 L411.0,513.7 L413.0,513.5 L415.0,513.2 L417.0,512.9 L419.0,512.6 L421.0,512.3 L423.0,512.0 L425.0,511.6 L427.0,511.2 L429.0,510.8 L431.0,510.3 L433.0,509.9 L435.0,509.3 L437.0,508.8 L439.0,508.2 L441.0,507.6 L443.0,507.0 L445.0,506.3 L447.0,505.7 L449.0,505.0 L451.0,504.2 L453.0,503.5 L455.0,502.6 L457.0,501.7 L459.0,500.8 L461.0,499.8 L463.0,498.7 L465.0,497.5 L467.0,496.2 L469.0,494.7 L471.0,493.1 L473.0,491.3 L475.0,489.4 L477.0,487.4 L479.0,485.4 L481.0,483.2 L483.0,481.0 L485.0,478.8 L487.0,476.4 L489.0,473.9 L491.0,471.4 L493.0,468.7 L495.0,466.1 L497.0,463.4 L499.0,460.7 L501.0,458.0 L503.0,455.3 L505.0,452.6 L507.0,449.9 L509.0,447.2 L511.0,444.4 L513.0,441.8 L515.0,439.1 L517.0,436.6 L519.0,434.0 L521.0,431.6 L523.0,429.1 L525.0,426.7 L527.0,424.3 L529.0,422.1 L531.0,419.9 L533.0,417.8 L535.0,415.9 L537.0,414.2 L539.0,412.5 L541.0,411.0 L543.0,409.6 L545.0,408.2 L547.0,406.9 L549.0,405.7 L551.0,404.6 L553.0,403.5 L555.0,402.5 L557.0,401.5 L559.0,400.6 L561.0,399.8 L563.0,399.0 L565.0,398.6 L567.0,398.3 L569.0,398.3 L571.0,398.6 L573.0,399.0 L575.0,399.6 L577.0,400.2 L579.0,400.9 L581.0,401.7 L583.0,402.6 L585.0,403.5 L587.0,404.6 L589.0,405.9 L591.0,407.2 L593.0,408.6 L595.0,410.1 L597.0,411.6 L599.0,413.2 L601.0,414.9 L603.0,416.6 L605.0,418.4 L607.0,420.3 L609.0,422.1 L611.0,423.9 L613.0,425.7 L615.0,427.5 L617.0,429.3 L619.0,431.2 L621.0,433.0 L623.0,435.0 L625.0,436.9 L627.0,439.0 L629.0,441.1 L631.0,443.4 L633.0,445.8 L635.0,448.3 L637.0,450.9 L639.0,453.5 L641.0,456.1 L643.0,458.7 L645.0,461.2 L647.0,463.6 L649.0,465.9 L651.0,468.2 L653.0,470.3 L655.0,472.5 L657.0,474.6 L659.0,476.6 L661.0,478.5 L663.0,480.2 L665.0,481.8 L667.0,483.2 L669.0,484.4 L671.0,485.5 L673.0,486.6 L675.0,487.5 L677.0,488.4 L679.0,489.3 L681.0,490.1 L683.0,490.8 L685.0,491.6 L687.0,492.2 L689.0,492.9 L691.0,493.4 L693.0,494.0 L695.0,494.5 L697.0,495.0 L699.0,495.4 L701.0,495.9 L703.0,496.3 L705.0,496.7 L707.0,497.1 L709.0,497.5 L711.0,497.8 L713.0,498.2 L715.0,498.5 L717.0,498.8 L719.0,499.1 L721.0,499.4 L723.0,499.7 L725.0,500.0 L727.0,500.2 L729.0,500.4 L731.0,500.6 L733.0,500.8 L735.0,500.9 L737.0,501.1 L739.0,501.2 L741.0,501.3 L743.0,501.4 L745.0,501.5 L747.0,501.7 L749.0,501.8 L751.0,501.9 L753.0,502.0 L755.0,502.1 L757.0,502.2 L759.0,502.3 L761.0,502.4 L763.0,502.4 L765.0,502.5 L767.0,502.6 L769.0,502.7 L771.0,502.7 L773.0,502.8 L775.0,502.8 L777.0,502.9 L779.0,502.9 L781.0,502.9 L783.0,503.0 L785.0,503.0 L787.0,503.0 L788.0,503.0" stroke="#a8383a" stroke-width="1.8"/>
</g>
<g stroke="#555" stroke-width="2.2" fill="none">
<path d="M230,269 H788 V537 H237 V269"/>
<path d="M237,537 V541 M230,537 H237"/>
<path d="M230,307.3 H241 M230,345.6 H241 M230,383.9 H241 M230,422.1 H241 M230,460.4 H241 M230,498.7 H241"/>
<path d="M345,533 V541 M458,533 V541 M567,533 V541 M678,533 V541 M788,537 V541"/>
</g>
<!-- chart 2 -->
<clipPath id="c2"><rect x="237" y="695.5" width="551" height="266.5"/></clipPath>
<g clip-path="url(#c2)" fill="none" stroke-linejoin="round" stroke-linecap="round">
<path d="M237.0,951.0 L239.0,951.1 L241.0,951.1 L243.0,951.2 L245.0,951.2 L247.0,951.3 L249.0,951.3 L251.0,951.4 L253.0,951.4 L255.0,951.5 L257.0,951.5 L259.0,951.6 L261.0,951.6 L263.0,951.7 L265.0,951.7 L267.0,951.7 L269.0,951.8 L271.0,951.8 L273.0,951.8 L275.0,951.8 L277.0,951.9 L279.0,951.9 L281.0,951.9 L283.0,951.9 L285.0,951.9 L287.0,952.0 L289.0,952.0 L291.0,952.0 L293.0,952.0 L295.0,952.0 L297.0,952.0 L299.0,952.0 L301.0,952.0 L303.0,952.0 L305.0,952.0 L307.0,952.0 L309.0,952.0 L311.0,952.0 L313.0,951.9 L315.0,951.9 L317.0,951.9 L319.0,951.9 L321.0,951.9 L323.0,951.8 L325.0,951.8 L327.0,951.8 L329.0,951.7 L331.0,951.7 L333.0,951.7 L335.0,951.6 L337.0,951.6 L339.0,951.5 L341.0,951.5 L343.0,951.4 L345.0,951.4 L347.0,951.3 L349.0,951.3 L351.0,951.2 L353.0,951.2 L355.0,951.1 L357.0,951.1 L359.0,951.0 L361.0,951.0 L363.0,950.9 L365.0,950.8 L367.0,950.7 L369.0,950.6 L371.0,950.5 L373.0,950.4 L375.0,950.3 L377.0,950.2 L379.0,950.1 L381.0,949.9 L383.0,949.8 L385.0,949.6 L387.0,949.4 L389.0,949.2 L391.0,949.0 L393.0,948.8 L395.0,948.6 L397.0,948.4 L399.0,948.1 L401.0,947.9 L403.0,947.6 L405.0,947.4 L407.0,947.1 L409.0,946.8 L411.0,946.5 L413.0,946.2 L415.0,945.9 L417.0,945.5 L419.0,945.1 L421.0,944.7 L423.0,944.2 L425.0,943.6 L427.0,942.8 L429.0,942.0 L431.0,941.1 L433.0,940.0 L435.0,938.9 L437.0,937.7 L439.0,936.4 L441.0,935.1 L443.0,933.7 L445.0,932.2 L447.0,930.7 L449.0,929.1 L451.0,927.5 L453.0,925.9 L455.0,924.2 L457.0,922.5 L459.0,920.8 L461.0,919.0 L463.0,917.1 L465.0,915.1 L467.0,913.0 L469.0,910.7 L471.0,908.3 L473.0,905.8 L475.0,903.2 L477.0,900.5 L479.0,897.7 L481.0,894.8 L483.0,891.7 L485.0,888.4 L487.0,884.9 L489.0,881.2 L491.0,877.5 L493.0,873.7 L495.0,869.9 L497.0,866.1 L499.0,862.3 L501.0,858.4 L503.0,854.6 L505.0,850.7 L507.0,846.9 L509.0,843.2 L511.0,839.4 L513.0,835.7 L515.0,832.0 L517.0,828.5 L519.0,825.0 L521.0,821.8 L523.0,818.6 L525.0,815.6 L527.0,812.8 L529.0,810.0 L531.0,807.4 L533.0,804.8 L535.0,802.4 L537.0,800.1 L539.0,797.9 L541.0,795.7 L543.0,793.7 L545.0,791.7 L547.0,789.9 L549.0,788.2 L551.0,786.6 L553.0,785.1 L555.0,783.7 L557.0,782.3 L559.0,781.0 L561.0,779.8 L563.0,778.6 L565.0,777.7 L567.0,777.0 L569.0,776.5 L571.0,776.3 L573.0,776.3 L575.0,776.6 L577.0,777.0 L579.0,777.5 L581.0,778.2 L583.0,778.9 L585.0,779.8 L587.0,780.7 L589.0,781.6 L591.0,782.7 L593.0,783.9 L595.0,785.3 L597.0,786.8 L599.0,788.5 L601.0,790.3 L603.0,792.2 L605.0,794.1 L607.0,796.2 L609.0,798.4 L611.0,800.7 L613.0,803.1 L615.0,805.6 L617.0,808.2 L619.0,810.7 L621.0,813.3 L623.0,815.9 L625.0,818.6 L627.0,821.3 L629.0,824.0 L631.0,826.7 L633.0,829.4 L635.0,832.1 L637.0,834.7 L639.0,837.2 L641.0,839.7 L643.0,842.1 L645.0,844.5 L647.0,846.9 L649.0,849.2 L651.0,851.5 L653.0,853.8 L655.0,856.0 L657.0,858.2 L659.0,860.4 L661.0,862.5 L663.0,864.7 L665.0,866.7 L667.0,868.6 L669.0,870.4 L671.0,872.1 L673.0,873.6 L675.0,875.0 L677.0,876.3 L679.0,877.5 L681.0,878.7 L683.0,879.8 L685.0,880.9 L687.0,882.0 L689.0,883.0 L691.0,884.0 L693.0,884.9 L695.0,885.9 L697.0,886.8 L699.0,887.7 L701.0,888.7 L703.0,889.6 L705.0,890.5 L707.0,891.5 L709.0,892.4 L711.0,893.3 L713.0,894.3 L715.0,895.2 L717.0,896.0 L719.0,896.9 L721.0,897.8 L723.0,898.7 L725.0,899.5 L727.0,900.4 L729.0,901.3 L731.0,902.1 L733.0,903.0 L735.0,903.8 L737.0,904.7 L739.0,905.6 L741.0,906.4 L743.0,907.3 L745.0,908.2 L747.0,909.1 L749.0,910.0 L751.0,910.8 L753.0,911.7 L755.0,912.6 L757.0,913.5 L759.0,914.3 L761.0,915.2 L763.0,916.1 L765.0,917.0 L767.0,917.8 L769.0,918.7 L771.0,919.6 L773.0,920.5 L775.0,921.3 L777.0,922.2 L779.0,923.1 L781.0,923.9 L783.0,924.8 L785.0,925.7 L787.0,926.6 L788.0,927.0" stroke="#262626" stroke-width="1.9"/>
<path d="M237.0,950.0 L239.0,950.1 L241.0,950.2 L243.0,950.2 L245.0,950.3 L247.0,950.4 L249.0,950.4 L251.0,950.5 L253.0,950.5 L255.0,950.6 L257.0,950.6 L259.0,950.7 L261.0,950.7 L263.0,950.7 L265.0,950.8 L267.0,950.8 L269.0,950.8 L271.0,950.9 L273.0,950.9 L275.0,950.9 L277.0,950.9 L279.0,950.9 L281.0,950.9 L283.0,951.0 L285.0,951.0 L287.0,951.0 L289.0,951.0 L291.0,951.0 L293.0,951.0 L295.0,951.0 L297.0,951.0 L299.0,951.0 L301.0,951.0 L303.0,951.0 L305.0,951.0 L307.0,951.0 L309.0,950.9 L311.0,950.9 L313.0,950.9 L315.0,950.8 L317.0,950.8 L319.0,950.7 L321.0,950.7 L323.0,950.6 L325.0,950.6 L327.0,950.5 L329.0,950.4 L331.0,950.4 L333.0,950.3 L335.0,950.2 L337.0,950.1 L339.0,950.0 L341.0,949.9 L343.0,949.9 L345.0,949.8 L347.0,949.7 L349.0,949.6 L351.0,949.5 L353.0,949.4 L355.0,949.3 L357.0,949.2 L359.0,949.0 L361.0,948.9 L363.0,948.8 L365.0,948.7 L367.0,948.6 L369.0,948.4 L371.0,948.3 L373.0,948.1 L375.0,947.9 L377.0,947.8 L379.0,947.6 L381.0,947.4 L383.0,947.2 L385.0,947.0 L387.0,946.7 L389.0,946.5 L391.0,946.2 L393.0,946.0 L395.0,945.7 L397.0,945.4 L399.0,945.1 L401.0,944.7 L403.0,944.4 L405.0,944.1 L407.0,943.7 L409.0,943.3 L411.0,942.9 L413.0,942.5 L415.0,942.1 L417.0,941.7 L419.0,941.2 L421.0,940.6 L423.0,940.0 L425.0,939.3 L427.0,938.4 L429.0,937.4 L431.0,936.4 L433.0,935.2 L435.0,933.9 L437.0,932.6 L439.0,931.1 L441.0,929.6 L443.0,928.1 L445.0,926.4 L447.0,924.8 L449.0,923.0 L451.0,921.3 L453.0,919.5 L455.0,917.7 L457.0,915.9 L459.0,913.9 L461.0,911.9 L463.0,909.8 L465.0,907.5 L467.0,905.1 L469.0,902.6 L471.0,899.9 L473.0,897.2 L475.0,894.5 L477.0,891.6 L479.0,888.8 L481.0,885.8 L483.0,882.9 L485.0,879.9 L487.0,876.8 L489.0,873.6 L491.0,870.3 L493.0,866.8 L495.0,863.3 L497.0,859.7 L499.0,856.2 L501.0,852.7 L503.0,849.2 L505.0,845.9 L507.0,842.7 L509.0,839.6 L511.0,836.6 L513.0,833.7 L515.0,830.8 L517.0,828.0 L519.0,825.2 L521.0,822.5 L523.0,819.8 L525.0,817.2 L527.0,814.8 L529.0,812.5 L531.0,810.4 L533.0,808.5 L535.0,806.7 L537.0,805.1 L539.0,803.7 L541.0,802.3 L543.0,801.0 L545.0,799.7 L547.0,798.4 L549.0,797.2 L551.0,796.1 L553.0,795.0 L555.0,794.1 L557.0,793.3 L559.0,792.5 L561.0,792.0 L563.0,791.5 L565.0,791.3 L567.0,791.2 L569.0,791.3 L571.0,791.5 L573.0,791.9 L575.0,792.5 L577.0,793.1 L579.0,794.0 L581.0,794.9 L583.0,795.9 L585.0,797.1 L587.0,798.3 L589.0,799.6 L591.0,801.0 L593.0,802.5 L595.0,804.0 L597.0,805.5 L599.0,807.1 L601.0,808.7 L603.0,810.4 L605.0,812.3 L607.0,814.3 L609.0,816.6 L611.0,819.2 L613.0,822.0 L615.0,825.0 L617.0,828.2 L619.0,831.3 L621.0,834.4 L623.0,837.4 L625.0,840.2 L627.0,842.8 L629.0,845.2 L631.0,847.6 L633.0,849.8 L635.0,852.0 L637.0,854.2 L639.0,856.3 L641.0,858.4 L643.0,860.4 L645.0,862.4 L647.0,864.4 L649.0,866.3 L651.0,868.1 L653.0,870.0 L655.0,871.8 L657.0,873.5 L659.0,875.3 L661.0,877.0 L663.0,878.7 L665.0,880.3 L667.0,882.0 L669.0,883.6 L671.0,885.3 L673.0,886.9 L675.0,888.4 L677.0,890.0 L679.0,891.5 L681.0,893.0 L683.0,894.5 L685.0,895.9 L687.0,897.3 L689.0,898.6 L691.0,899.9 L693.0,901.1 L695.0,902.3 L697.0,903.4 L699.0,904.4 L701.0,905.5 L703.0,906.4 L705.0,907.4 L707.0,908.3 L709.0,909.2 L711.0,910.1 L713.0,910.9 L715.0,911.7 L717.0,912.5 L719.0,913.3 L721.0,914.0 L723.0,914.8 L725.0,915.5 L727.0,916.2 L729.0,916.8 L731.0,917.4 L733.0,918.1 L735.0,918.6 L737.0,919.2 L739.0,919.7 L741.0,920.2 L743.0,920.7 L745.0,921.2 L747.0,921.7 L749.0,922.2 L751.0,922.7 L753.0,923.1 L755.0,923.6 L757.0,924.0 L759.0,924.5 L761.0,924.9 L763.0,925.3 L765.0,925.7 L767.0,926.1 L769.0,926.4 L771.0,926.8 L773.0,927.1 L775.0,927.4 L777.0,927.7 L779.0,928.0 L781.0,928.2 L783.0,928.5 L785.0,928.7 L787.0,928.9 L788.0,929.0" stroke="#262626" stroke-width="1.9"/>
<path d="M237.0,945.0 L239.0,945.1 L241.0,945.2 L243.0,945.4 L245.0,945.5 L247.0,945.6 L249.0,945.7 L251.0,945.8 L253.0,945.9 L255.0,946.0 L257.0,946.1 L259.0,946.2 L261.0,946.2 L263.0,946.3 L265.0,946.4 L267.0,946.5 L269.0,946.5 L271.0,946.6 L273.0,946.6 L275.0,946.7 L277.0,946.7 L279.0,946.8 L281.0,946.8 L283.0,946.9 L285.0,946.9 L287.0,946.9 L289.0,946.9 L291.0,947.0 L293.0,947.0 L295.0,947.0 L297.0,947.0 L299.0,947.0 L301.0,947.0 L303.0,947.0 L305.0,947.0 L307.0,947.0 L309.0,946.9 L311.0,946.9 L313.0,946.9 L315.0,946.8 L317.0,946.8 L319.0,946.7 L321.0,946.7 L323.0,946.6 L325.0,946.6 L327.0,946.5 L329.0,946.4 L331.0,946.3 L333.0,946.3 L335.0,946.2 L337.0,946.1 L339.0,946.0 L341.0,945.9 L343.0,945.8 L345.0,945.7 L347.0,945.7 L349.0,945.6 L351.0,945.5 L353.0,945.4 L355.0,945.3 L357.0,945.2 L359.0,945.0 L361.0,944.9 L363.0,944.8 L365.0,944.7 L367.0,944.6 L369.0,944.5 L371.0,944.3 L373.0,944.2 L375.0,944.0 L377.0,943.9 L379.0,943.7 L381.0,943.5 L383.0,943.4 L385.0,943.2 L387.0,943.0 L389.0,942.8 L391.0,942.5 L393.0,942.3 L395.0,942.1 L397.0,941.8 L399.0,941.6 L401.0,941.3 L403.0,941.0 L405.0,940.7 L407.0,940.4 L409.0,940.0 L411.0,939.7 L413.0,939.3 L415.0,939.0 L417.0,938.6 L419.0,938.2 L421.0,937.7 L423.0,937.1 L425.0,936.4 L427.0,935.7 L429.0,934.8 L431.0,933.8 L433.0,932.8 L435.0,931.6 L437.0,930.3 L439.0,929.0 L441.0,927.6 L443.0,926.2 L445.0,924.6 L447.0,923.1 L449.0,921.5 L451.0,919.8 L453.0,918.1 L455.0,916.4 L457.0,914.6 L459.0,912.8 L461.0,910.9 L463.0,908.9 L465.0,906.7 L467.0,904.4 L469.0,901.9 L471.0,899.3 L473.0,896.6 L475.0,893.8 L477.0,890.9 L479.0,888.0 L481.0,885.1 L483.0,882.2 L485.0,879.3 L487.0,876.4 L489.0,873.5 L491.0,870.6 L493.0,867.6 L495.0,864.6 L497.0,861.5 L499.0,858.5 L501.0,855.4 L503.0,852.4 L505.0,849.5 L507.0,846.7 L509.0,843.9 L511.0,841.4 L513.0,838.9 L515.0,836.4 L517.0,834.0 L519.0,831.7 L521.0,829.4 L523.0,827.1 L525.0,824.9 L527.0,822.8 L529.0,820.8 L531.0,818.9 L533.0,817.1 L535.0,815.5 L537.0,814.0 L539.0,812.7 L541.0,811.5 L543.0,810.4 L545.0,809.3 L547.0,808.3 L549.0,807.3 L551.0,806.4 L553.0,805.5 L555.0,804.7 L557.0,804.0 L559.0,803.3 L561.0,802.8 L563.0,802.5 L565.0,802.3 L567.0,802.2 L569.0,802.3 L571.0,802.5 L573.0,802.9 L575.0,803.5 L577.0,804.2 L579.0,805.0 L581.0,805.9 L583.0,807.0 L585.0,808.1 L587.0,809.4 L589.0,810.7 L591.0,812.1 L593.0,813.5 L595.0,815.0 L597.0,816.6 L599.0,818.2 L601.0,819.8 L603.0,821.4 L605.0,823.2 L607.0,825.2 L609.0,827.3 L611.0,829.8 L613.0,832.5 L615.0,835.4 L617.0,838.4 L619.0,841.6 L621.0,844.7 L623.0,847.9 L625.0,851.0 L627.0,854.0 L629.0,856.9 L631.0,859.6 L633.0,862.1 L635.0,864.5 L637.0,866.9 L639.0,869.3 L641.0,871.6 L643.0,873.9 L645.0,876.2 L647.0,878.4 L649.0,880.5 L651.0,882.6 L653.0,884.6 L655.0,886.6 L657.0,888.4 L659.0,890.2 L661.0,891.9 L663.0,893.4 L665.0,894.9 L667.0,896.3 L669.0,897.7 L671.0,899.1 L673.0,900.4 L675.0,901.7 L677.0,902.9 L679.0,904.2 L681.0,905.4 L683.0,906.6 L685.0,907.7 L687.0,908.8 L689.0,909.8 L691.0,910.9 L693.0,911.8 L695.0,912.7 L697.0,913.6 L699.0,914.4 L701.0,915.2 L703.0,915.9 L705.0,916.6 L707.0,917.2 L709.0,917.7 L711.0,918.2 L713.0,918.7 L715.0,919.1 L717.0,919.6 L719.0,920.0 L721.0,920.5 L723.0,920.9 L725.0,921.3 L727.0,921.8 L729.0,922.2 L731.0,922.6 L733.0,923.0 L735.0,923.3 L737.0,923.7 L739.0,924.1 L741.0,924.4 L743.0,924.8 L745.0,925.1 L747.0,925.4 L749.0,925.8 L751.0,926.1 L753.0,926.3 L755.0,926.6 L757.0,926.9 L759.0,927.1 L761.0,927.4 L763.0,927.6 L765.0,927.8 L767.0,928.0 L769.0,928.2 L771.0,928.3 L773.0,928.5 L775.0,928.6 L777.0,928.7 L779.0,928.8 L781.0,928.9 L783.0,928.9 L785.0,929.0 L787.0,929.0 L788.0,929.0" stroke="#262626" stroke-width="1.9"/>
<path d="M237.0,950.0 L239.0,950.1 L241.0,950.1 L243.0,950.2 L245.0,950.2 L247.0,950.3 L249.0,950.3 L251.0,950.4 L253.0,950.4 L255.0,950.5 L257.0,950.5 L259.0,950.6 L261.0,950.6 L263.0,950.7 L265.0,950.7 L267.0,950.7 L269.0,950.8 L271.0,950.8 L273.0,950.8 L275.0,950.8 L277.0,950.9 L279.0,950.9 L281.0,950.9 L283.0,950.9 L285.0,950.9 L287.0,951.0 L289.0,951.0 L291.0,951.0 L293.0,951.0 L295.0,951.0 L297.0,951.0 L299.0,951.0 L301.0,951.0 L303.0,951.0 L305.0,951.0 L307.0,951.0 L309.0,951.0 L311.0,951.0 L313.0,950.9 L315.0,950.9 L317.0,950.9 L319.0,950.9 L321.0,950.9 L323.0,950.8 L325.0,950.8 L327.0,950.8 L329.0,950.7 L331.0,950.7 L333.0,950.7 L335.0,950.6 L337.0,950.6 L339.0,950.5 L341.0,950.5 L343.0,950.4 L345.0,950.4 L347.0,950.3 L349.0,950.3 L351.0,950.2 L353.0,950.2 L355.0,950.1 L357.0,950.1 L359.0,950.0 L361.0,950.0 L363.0,949.9 L365.0,949.8 L367.0,949.7 L369.0,949.6 L371.0,949.5 L373.0,949.4 L375.0,949.3 L377.0,949.2 L379.0,949.1 L381.0,948.9 L383.0,948.7 L385.0,948.6 L387.0,948.4 L389.0,948.2 L391.0,948.0 L393.0,947.8 L395.0,947.6 L397.0,947.4 L399.0,947.1 L401.0,946.9 L403.0,946.6 L405.0,946.4 L407.0,946.1 L409.0,945.8 L411.0,945.5 L413.0,945.2 L415.0,944.8 L417.0,944.5 L419.0,944.1 L421.0,943.7 L423.0,943.2 L425.0,942.6 L427.0,941.9 L429.0,941.1 L431.0,940.3 L433.0,939.3 L435.0,938.2 L437.0,937.1 L439.0,935.9 L441.0,934.6 L443.0,933.2 L445.0,931.8 L447.0,930.3 L449.0,928.8 L451.0,927.2 L453.0,925.6 L455.0,924.0 L457.0,922.3 L459.0,920.6 L461.0,918.8 L463.0,916.9 L465.0,914.9 L467.0,912.6 L469.0,910.2 L471.0,907.7 L473.0,905.0 L475.0,902.1 L477.0,899.2 L479.0,896.3 L481.0,893.3 L483.0,890.3 L485.0,887.3 L487.0,884.3 L489.0,881.4 L491.0,878.6 L493.0,875.7 L495.0,872.8 L497.0,869.8 L499.0,866.8 L501.0,863.9 L503.0,860.9 L505.0,858.0 L507.0,855.2 L509.0,852.5 L511.0,849.9 L513.0,847.4 L515.0,845.1 L517.0,842.9 L519.0,840.7 L521.0,838.5 L523.0,836.4 L525.0,834.4 L527.0,832.4 L529.0,830.4 L531.0,828.6 L533.0,826.9 L535.0,825.3 L537.0,823.8 L539.0,822.4 L541.0,821.2 L543.0,820.1 L545.0,819.1 L547.0,818.1 L549.0,817.2 L551.0,816.3 L553.0,815.4 L555.0,814.7 L557.0,814.0 L559.0,813.3 L561.0,812.9 L563.0,812.5 L565.0,812.3 L567.0,812.2 L569.0,812.3 L571.0,812.5 L573.0,812.9 L575.0,813.5 L577.0,814.2 L579.0,815.0 L581.0,815.9 L583.0,816.9 L585.0,818.0 L587.0,819.2 L589.0,820.5 L591.0,821.8 L593.0,823.1 L595.0,824.5 L597.0,825.9 L599.0,827.4 L601.0,829.0 L603.0,830.7 L605.0,832.7 L607.0,834.9 L609.0,837.3 L611.0,839.8 L613.0,842.5 L615.0,845.3 L617.0,848.1 L619.0,851.0 L621.0,853.8 L623.0,856.7 L625.0,859.4 L627.0,862.1 L629.0,864.7 L631.0,867.2 L633.0,869.6 L635.0,872.1 L637.0,874.5 L639.0,877.0 L641.0,879.5 L643.0,881.9 L645.0,884.4 L647.0,886.8 L649.0,889.1 L651.0,891.4 L653.0,893.6 L655.0,895.8 L657.0,897.8 L659.0,899.7 L661.0,901.6 L663.0,903.3 L665.0,904.9 L667.0,906.5 L669.0,908.0 L671.0,909.6 L673.0,911.1 L675.0,912.6 L677.0,914.2 L679.0,915.7 L681.0,917.2 L683.0,918.6 L685.0,920.1 L687.0,921.5 L689.0,922.8 L691.0,924.1 L693.0,925.4 L695.0,926.6 L697.0,927.8 L699.0,928.9 L701.0,929.9 L703.0,930.8 L705.0,931.7 L707.0,932.4 L709.0,933.1 L711.0,933.7 L713.0,934.1 L715.0,934.5 L717.0,934.7 L719.0,934.9 L721.0,935.0 L723.0,935.0 L725.0,935.0 L727.0,935.0 L729.0,935.0 L731.0,935.0 L733.0,935.0 L735.0,934.9 L737.0,934.9 L739.0,934.9 L741.0,934.8 L743.0,934.8 L745.0,934.7 L747.0,934.7 L749.0,934.6 L751.0,934.5 L753.0,934.4 L755.0,934.3 L757.0,934.2 L759.0,934.0 L761.0,933.9 L763.0,933.7 L765.0,933.5 L767.0,933.3 L769.0,933.1 L771.0,932.9 L773.0,932.6 L775.0,932.3 L777.0,932.0 L779.0,931.7 L781.0,931.4 L783.0,931.0 L785.0,930.6 L787.0,930.2 L788.0,930.0" stroke="#262626" stroke-width="1.9"/>
<path d="M237.0,952.0 L239.0,952.1 L241.0,952.1 L243.0,952.2 L245.0,952.2 L247.0,952.3 L249.0,952.3 L251.0,952.4 L253.0,952.4 L255.0,952.5 L257.0,952.5 L259.0,952.6 L261.0,952.6 L263.0,952.7 L265.0,952.7 L267.0,952.7 L269.0,952.8 L271.0,952.8 L273.0,952.8 L275.0,952.8 L277.0,952.9 L279.0,952.9 L281.0,952.9 L283.0,952.9 L285.0,952.9 L287.0,953.0 L289.0,953.0 L291.0,953.0 L293.0,953.0 L295.0,953.0 L297.0,953.0 L299.0,953.0 L301.0,953.0 L303.0,953.0 L305.0,953.0 L307.0,953.0 L309.0,953.0 L311.0,953.0 L313.0,952.9 L315.0,952.9 L317.0,952.9 L319.0,952.9 L321.0,952.9 L323.0,952.8 L325.0,952.8 L327.0,952.8 L329.0,952.7 L331.0,952.7 L333.0,952.7 L335.0,952.6 L337.0,952.6 L339.0,952.5 L341.0,952.5 L343.0,952.4 L345.0,952.4 L347.0,952.3 L349.0,952.3 L351.0,952.2 L353.0,952.2 L355.0,952.1 L357.0,952.1 L359.0,952.0 L361.0,952.0 L363.0,951.9 L365.0,951.8 L367.0,951.7 L369.0,951.6 L371.0,951.5 L373.0,951.4 L375.0,951.3 L377.0,951.2 L379.0,951.0 L381.0,950.9 L383.0,950.7 L385.0,950.6 L387.0,950.4 L389.0,950.2 L391.0,950.0 L393.0,949.8 L395.0,949.6 L397.0,949.3 L399.0,949.1 L401.0,948.8 L403.0,948.6 L405.0,948.3 L407.0,948.0 L409.0,947.8 L411.0,947.5 L413.0,947.2 L415.0,946.8 L417.0,946.5 L419.0,946.1 L421.0,945.7 L423.0,945.3 L425.0,944.8 L427.0,944.2 L429.0,943.5 L431.0,942.7 L433.0,941.9 L435.0,941.0 L437.0,940.0 L439.0,939.0 L441.0,937.9 L443.0,936.8 L445.0,935.6 L447.0,934.3 L449.0,933.0 L451.0,931.7 L453.0,930.3 L455.0,928.8 L457.0,927.4 L459.0,925.9 L461.0,924.3 L463.0,922.7 L465.0,920.9 L467.0,919.0 L469.0,916.9 L471.0,914.6 L473.0,912.1 L475.0,909.5 L477.0,906.7 L479.0,903.9 L481.0,900.9 L483.0,898.0 L485.0,895.0 L487.0,892.1 L489.0,889.2 L491.0,886.4 L493.0,883.6 L495.0,880.9 L497.0,878.1 L499.0,875.2 L501.0,872.4 L503.0,869.5 L505.0,866.7 L507.0,863.9 L509.0,861.2 L511.0,858.5 L513.0,856.0 L515.0,853.5 L517.0,851.2 L519.0,849.0 L521.0,846.9 L523.0,844.8 L525.0,842.7 L527.0,840.7 L529.0,838.8 L531.0,836.9 L533.0,835.1 L535.0,833.4 L537.0,831.7 L539.0,830.2 L541.0,828.7 L543.0,827.3 L545.0,826.0 L547.0,824.8 L549.0,823.5 L551.0,822.3 L553.0,821.1 L555.0,820.0 L557.0,819.0 L559.0,818.1 L561.0,817.3 L563.0,816.8 L565.0,816.4 L567.0,816.2 L569.0,816.3 L571.0,816.5 L573.0,816.9 L575.0,817.5 L577.0,818.2 L579.0,819.0 L581.0,819.9 L583.0,820.9 L585.0,822.0 L587.0,823.2 L589.0,824.5 L591.0,825.8 L593.0,827.1 L595.0,828.5 L597.0,829.9 L599.0,831.4 L601.0,833.0 L603.0,834.7 L605.0,836.6 L607.0,838.7 L609.0,841.1 L611.0,843.6 L613.0,846.2 L615.0,848.9 L617.0,851.7 L619.0,854.5 L621.0,857.4 L623.0,860.2 L625.0,862.9 L627.0,865.6 L629.0,868.2 L631.0,870.7 L633.0,873.1 L635.0,875.5 L637.0,877.8 L639.0,880.2 L641.0,882.5 L643.0,884.9 L645.0,887.2 L647.0,889.5 L649.0,891.8 L651.0,894.0 L653.0,896.2 L655.0,898.4 L657.0,900.5 L659.0,902.5 L661.0,904.4 L663.0,906.2 L665.0,908.0 L667.0,909.6 L669.0,911.2 L671.0,912.7 L673.0,914.1 L675.0,915.6 L677.0,917.0 L679.0,918.5 L681.0,919.9 L683.0,921.4 L685.0,922.8 L687.0,924.2 L689.0,925.5 L691.0,926.9 L693.0,928.1 L695.0,929.4 L697.0,930.5 L699.0,931.6 L701.0,932.7 L703.0,933.6 L705.0,934.5 L707.0,935.3 L709.0,936.0 L711.0,936.6 L713.0,937.1 L715.0,937.5 L717.0,937.7 L719.0,937.9 L721.0,938.0 L723.0,938.0 L725.0,938.0 L727.0,938.0 L729.0,938.0 L731.0,938.0 L733.0,938.0 L735.0,937.9 L737.0,937.9 L739.0,937.9 L741.0,937.8 L743.0,937.8 L745.0,937.7 L747.0,937.6 L749.0,937.5 L751.0,937.4 L753.0,937.3 L755.0,937.2 L757.0,937.0 L759.0,936.8 L761.0,936.7 L763.0,936.5 L765.0,936.2 L767.0,936.0 L769.0,935.7 L771.0,935.4 L773.0,935.1 L775.0,934.8 L777.0,934.4 L779.0,934.1 L781.0,933.6 L783.0,933.2 L785.0,932.7 L787.0,932.2 L788.0,932.0" stroke="#262626" stroke-width="1.9"/>
<path d="M237.0,950.0 L239.0,950.1 L241.0,950.1 L243.0,950.2 L245.0,950.2 L247.0,950.3 L249.0,950.3 L251.0,950.4 L253.0,950.4 L255.0,950.5 L257.0,950.5 L259.0,950.6 L261.0,950.6 L263.0,950.7 L265.0,950.7 L267.0,950.7 L269.0,950.8 L271.0,950.8 L273.0,950.8 L275.0,950.8 L277.0,950.9 L279.0,950.9 L281.0,950.9 L283.0,950.9 L285.0,950.9 L287.0,951.0 L289.0,951.0 L291.0,951.0 L293.0,951.0 L295.0,951.0 L297.0,951.0 L299.0,951.0 L301.0,951.0 L303.0,951.0 L305.0,951.0 L307.0,951.0 L309.0,951.0 L311.0,951.0 L313.0,950.9 L315.0,950.9 L317.0,950.9 L319.0,950.9 L321.0,950.8 L323.0,950.8 L325.0,950.8 L327.0,950.8 L329.0,950.7 L331.0,950.7 L333.0,950.6 L335.0,950.6 L337.0,950.6 L339.0,950.5 L341.0,950.5 L343.0,950.4 L345.0,950.4 L347.0,950.3 L349.0,950.3 L351.0,950.2 L353.0,950.2 L355.0,950.1 L357.0,950.1 L359.0,950.0 L361.0,950.0 L363.0,949.9 L365.0,949.9 L367.0,949.8 L369.0,949.7 L371.0,949.6 L373.0,949.6 L375.0,949.5 L377.0,949.4 L379.0,949.3 L381.0,949.2 L383.0,949.1 L385.0,949.0 L387.0,948.9 L389.0,948.8 L391.0,948.6 L393.0,948.5 L395.0,948.4 L397.0,948.2 L399.0,948.1 L401.0,947.9 L403.0,947.7 L405.0,947.6 L407.0,947.4 L409.0,947.2 L411.0,947.0 L413.0,946.8 L415.0,946.6 L417.0,946.3 L419.0,946.1 L421.0,945.8 L423.0,945.5 L425.0,945.1 L427.0,944.6 L429.0,944.0 L431.0,943.4 L433.0,942.8 L435.0,942.0 L437.0,941.2 L439.0,940.4 L441.0,939.5 L443.0,938.5 L445.0,937.5 L447.0,936.5 L449.0,935.4 L451.0,934.3 L453.0,933.1 L455.0,931.9 L457.0,930.7 L459.0,929.5 L461.0,928.2 L463.0,926.9 L465.0,925.6 L467.0,924.2 L469.0,922.7 L471.0,921.0 L473.0,919.3 L475.0,917.4 L477.0,915.3 L479.0,913.2 L481.0,911.0 L483.0,908.8 L485.0,906.5 L487.0,904.2 L489.0,901.9 L491.0,899.6 L493.0,897.3 L495.0,895.0 L497.0,892.7 L499.0,890.4 L501.0,888.1 L503.0,885.8 L505.0,883.4 L507.0,881.0 L509.0,878.6 L511.0,876.1 L513.0,873.7 L515.0,871.2 L517.0,868.7 L519.0,866.2 L521.0,863.5 L523.0,860.7 L525.0,857.8 L527.0,854.9 L529.0,852.0 L531.0,849.4 L533.0,847.0 L535.0,845.0 L537.0,843.4 L539.0,842.0 L541.0,840.8 L543.0,839.8 L545.0,838.7 L547.0,837.8 L549.0,836.9 L551.0,836.0 L553.0,835.3 L555.0,834.6 L557.0,833.9 L559.0,833.4 L561.0,833.0 L563.0,832.6 L565.0,832.3 L567.0,832.2 L569.0,832.1 L571.0,832.2 L573.0,832.3 L575.0,832.6 L577.0,832.9 L579.0,833.4 L581.0,833.9 L583.0,834.5 L585.0,835.2 L587.0,835.9 L589.0,836.8 L591.0,837.6 L593.0,838.6 L595.0,839.6 L597.0,840.6 L599.0,841.6 L601.0,842.8 L603.0,843.9 L605.0,845.3 L607.0,846.8 L609.0,848.6 L611.0,850.7 L613.0,853.0 L615.0,855.6 L617.0,858.3 L619.0,861.1 L621.0,863.9 L623.0,866.7 L625.0,869.3 L627.0,871.9 L629.0,874.4 L631.0,876.9 L633.0,879.4 L635.0,881.8 L637.0,884.3 L639.0,886.7 L641.0,889.2 L643.0,891.6 L645.0,894.0 L647.0,896.3 L649.0,898.5 L651.0,900.7 L653.0,902.9 L655.0,905.0 L657.0,907.1 L659.0,909.2 L661.0,911.3 L663.0,913.5 L665.0,915.6 L667.0,917.8 L669.0,919.9 L671.0,922.0 L673.0,923.9 L675.0,925.8 L677.0,927.6 L679.0,929.2 L681.0,930.6 L683.0,931.9 L685.0,933.0 L687.0,933.9 L689.0,934.6 L691.0,935.1 L693.0,935.5 L695.0,935.9 L697.0,936.2 L699.0,936.5 L701.0,936.9 L703.0,937.2 L705.0,937.4 L707.0,937.7 L709.0,938.0 L711.0,938.2 L713.0,938.4 L715.0,938.7 L717.0,938.9 L719.0,939.0 L721.0,939.2 L723.0,939.4 L725.0,939.5 L727.0,939.6 L729.0,939.7 L731.0,939.8 L733.0,939.9 L735.0,939.9 L737.0,940.0 L739.0,940.0 L741.0,940.0 L743.0,940.0 L745.0,940.0 L747.0,940.0 L749.0,940.0 L751.0,939.9 L753.0,939.9 L755.0,939.9 L757.0,939.8 L759.0,939.8 L761.0,939.8 L763.0,939.7 L765.0,939.6 L767.0,939.5 L769.0,939.5 L771.0,939.3 L773.0,939.2 L775.0,939.1 L777.0,939.0 L779.0,938.8 L781.0,938.7 L783.0,938.5 L785.0,938.3 L787.0,938.1 L788.0,938.0" stroke="#262626" stroke-width="1.9"/>
<path d="M237.0,944.7 L239.0,944.9 L241.0,945.0 L243.0,945.2 L245.0,945.4 L247.0,945.6 L249.0,945.7 L251.0,945.9 L253.0,946.0 L255.0,946.2 L257.0,946.3 L259.0,946.4 L261.0,946.5 L263.0,946.6 L265.0,946.7 L267.0,946.8 L269.0,946.9 L271.0,946.9 L273.0,947.0 L275.0,947.0 L277.0,947.0 L279.0,947.0 L281.0,947.0 L283.0,947.0 L285.0,947.0 L287.0,947.0 L289.0,947.0 L291.0,947.0 L293.0,947.0 L295.0,947.0 L297.0,947.0 L299.0,947.0 L301.0,947.0 L303.0,947.0 L305.0,947.0 L307.0,947.0 L309.0,947.0 L311.0,947.0 L313.0,947.0 L315.0,947.0 L317.0,947.0 L319.0,947.0 L321.0,946.9 L323.0,946.8 L325.0,946.7 L327.0,946.6 L329.0,946.4 L331.0,946.2 L333.0,946.0 L335.0,945.8 L337.0,945.5 L339.0,945.3 L341.0,945.0 L343.0,944.7 L345.0,944.4 L347.0,944.1 L349.0,943.8 L351.0,943.5 L353.0,943.1 L355.0,942.8 L357.0,942.5 L359.0,942.2 L361.0,941.8 L363.0,941.5 L365.0,941.1 L367.0,940.8 L369.0,940.4 L371.0,940.0 L373.0,939.6 L375.0,939.2 L377.0,938.8 L379.0,938.3 L381.0,937.9 L383.0,937.4 L385.0,936.9 L387.0,936.4 L389.0,935.8 L391.0,935.3 L393.0,934.7 L395.0,934.1 L397.0,933.5 L399.0,932.9 L401.0,932.2 L403.0,931.6 L405.0,930.9 L407.0,930.2 L409.0,929.4 L411.0,928.7 L413.0,927.9 L415.0,927.1 L417.0,926.2 L419.0,925.4 L421.0,924.4 L423.0,923.4 L425.0,922.2 L427.0,920.9 L429.0,919.5 L431.0,917.9 L433.0,916.3 L435.0,914.6 L437.0,912.7 L439.0,910.9 L441.0,908.9 L443.0,906.9 L445.0,904.9 L447.0,902.8 L449.0,900.7 L451.0,898.6 L453.0,896.5 L455.0,894.4 L457.0,892.3 L459.0,890.3 L461.0,888.3 L463.0,886.4 L465.0,884.5 L467.0,882.7 L469.0,880.9 L471.0,879.1 L473.0,877.4 L475.0,875.6 L477.0,873.8 L479.0,872.0 L481.0,870.2 L483.0,868.4 L485.0,866.6 L487.0,864.8 L489.0,863.2 L491.0,861.6 L493.0,860.1 L495.0,858.7 L497.0,857.4 L499.0,856.3 L501.0,855.3 L503.0,854.5 L505.0,853.8 L507.0,853.1 L509.0,852.6 L511.0,852.0 L513.0,851.4 L515.0,850.9 L517.0,850.4 L519.0,849.9 L521.0,849.4 L523.0,849.0 L525.0,848.5 L527.0,848.1 L529.0,847.7 L531.0,847.3 L533.0,847.0 L535.0,846.7 L537.0,846.4 L539.0,846.1 L541.0,845.9 L543.0,845.6 L545.0,845.5 L547.0,845.3 L549.0,845.2 L551.0,845.1 L553.0,845.1 L555.0,845.1 L557.0,845.2 L559.0,845.4 L561.0,845.7 L563.0,846.0 L565.0,846.5 L567.0,847.0 L569.0,847.5 L571.0,848.1 L573.0,848.7 L575.0,849.3 L577.0,850.1 L579.0,850.9 L581.0,851.8 L583.0,852.8 L585.0,853.8 L587.0,854.9 L589.0,856.0 L591.0,857.2 L593.0,858.5 L595.0,859.8 L597.0,861.2 L599.0,862.7 L601.0,864.3 L603.0,866.1 L605.0,867.9 L607.0,869.8 L609.0,871.8 L611.0,873.8 L613.0,875.9 L615.0,877.9 L617.0,880.0 L619.0,882.1 L621.0,884.1 L623.0,886.1 L625.0,888.1 L627.0,890.0 L629.0,891.9 L631.0,893.9 L633.0,895.9 L635.0,897.9 L637.0,900.0 L639.0,902.0 L641.0,904.0 L643.0,906.0 L645.0,908.0 L647.0,909.9 L649.0,911.7 L651.0,913.5 L653.0,915.1 L655.0,916.6 L657.0,918.0 L659.0,919.3 L661.0,920.5 L663.0,921.6 L665.0,922.7 L667.0,923.8 L669.0,924.8 L671.0,925.9 L673.0,926.9 L675.0,927.9 L677.0,928.8 L679.0,929.7 L681.0,930.5 L683.0,931.3 L685.0,932.1 L687.0,932.7 L689.0,933.3 L691.0,933.8 L693.0,934.2 L695.0,934.5 L697.0,934.8 L699.0,934.9 L701.0,935.0 L703.0,935.0 L705.0,935.0 L707.0,935.0 L709.0,935.0 L711.0,935.0 L713.0,935.0 L715.0,935.0 L717.0,935.0 L719.0,935.0 L721.0,934.9 L723.0,934.9 L725.0,934.9 L727.0,934.9 L729.0,934.9 L731.0,934.8 L733.0,934.8 L735.0,934.7 L737.0,934.7 L739.0,934.6 L741.0,934.6 L743.0,934.5 L745.0,934.5 L747.0,934.4 L749.0,934.3 L751.0,934.2 L753.0,934.1 L755.0,934.0 L757.0,933.9 L759.0,933.8 L761.0,933.7 L763.0,933.5 L765.0,933.4 L767.0,933.2 L769.0,933.1 L771.0,932.9 L773.0,932.7 L775.0,932.5 L777.0,932.3 L779.0,932.1 L781.0,931.9 L783.0,931.6 L785.0,931.4 L787.0,931.1 L788.0,931.0" stroke="#262626" stroke-width="1.9"/>
<path d="M237.0,950.0 L239.0,950.0 L241.0,950.0 L243.0,950.0 L245.0,950.0 L247.0,950.0 L249.0,950.0 L251.0,950.0 L253.0,950.0 L255.0,950.0 L257.0,950.0 L259.0,950.0 L261.0,950.0 L263.0,950.0 L265.0,950.0 L267.0,950.0 L269.0,950.0 L271.0,950.0 L273.0,950.0 L275.0,950.0 L277.0,950.0 L279.0,950.0 L281.0,950.0 L283.0,950.0 L285.0,950.0 L287.0,950.0 L289.0,950.0 L291.0,950.0 L293.0,950.0 L295.0,950.0 L297.0,950.0 L299.0,950.0 L301.0,950.0 L303.0,950.0 L305.0,950.0 L307.0,950.0 L309.0,950.0 L311.0,950.0 L313.0,950.0 L315.0,950.0 L317.0,950.0 L319.0,949.9 L321.0,949.9 L323.0,949.9 L325.0,949.8 L327.0,949.7 L329.0,949.6 L331.0,949.5 L333.0,949.4 L335.0,949.3 L337.0,949.2 L339.0,949.0 L341.0,948.8 L343.0,948.7 L345.0,948.5 L347.0,948.3 L349.0,948.0 L351.0,947.6 L353.0,947.0 L355.0,946.1 L357.0,945.0 L359.0,943.7 L361.0,942.2 L363.0,940.5 L365.0,938.8 L367.0,937.0 L369.0,935.1 L371.0,933.2 L373.0,931.5 L375.0,929.7 L377.0,928.1 L379.0,926.5 L381.0,924.9 L383.0,923.3 L385.0,921.7 L387.0,920.2 L389.0,918.6 L391.0,917.0 L393.0,915.4 L395.0,913.8 L397.0,912.2 L399.0,910.6 L401.0,909.0 L403.0,907.4 L405.0,905.7 L407.0,904.0 L409.0,902.3 L411.0,900.7 L413.0,899.0 L415.0,897.3 L417.0,895.6 L419.0,894.0 L421.0,892.5 L423.0,891.0 L425.0,889.6 L427.0,888.3 L429.0,887.1 L431.0,886.0 L433.0,884.9 L435.0,883.9 L437.0,882.9 L439.0,881.9 L441.0,881.0 L443.0,880.2 L445.0,879.3 L447.0,878.5 L449.0,877.7 L451.0,876.9 L453.0,876.1 L455.0,875.2 L457.0,874.4 L459.0,873.6 L461.0,872.7 L463.0,871.9 L465.0,870.9 L467.0,869.9 L469.0,868.9 L471.0,867.8 L473.0,866.6 L475.0,865.4 L477.0,864.2 L479.0,862.9 L481.0,861.7 L483.0,860.5 L485.0,859.3 L487.0,858.1 L489.0,857.0 L491.0,856.0 L493.0,855.1 L495.0,854.2 L497.0,853.5 L499.0,853.0 L501.0,852.5 L503.0,852.3 L505.0,852.2 L507.0,852.2 L509.0,852.3 L511.0,852.5 L513.0,852.8 L515.0,853.2 L517.0,853.6 L519.0,854.1 L521.0,854.5 L523.0,854.9 L525.0,855.4 L527.0,855.8 L529.0,856.2 L531.0,856.5 L533.0,856.7 L535.0,856.8 L537.0,856.9 L539.0,856.9 L541.0,856.7 L543.0,856.6 L545.0,856.3 L547.0,856.0 L549.0,855.7 L551.0,855.4 L553.0,855.1 L555.0,854.8 L557.0,854.6 L559.0,854.3 L561.0,854.2 L563.0,854.1 L565.0,854.2 L567.0,854.3 L569.0,854.6 L571.0,855.0 L573.0,855.6 L575.0,856.2 L577.0,856.9 L579.0,857.8 L581.0,858.7 L583.0,859.7 L585.0,860.7 L587.0,861.8 L589.0,862.9 L591.0,864.0 L593.0,865.2 L595.0,866.4 L597.0,867.5 L599.0,868.7 L601.0,869.8 L603.0,870.9 L605.0,872.0 L607.0,873.1 L609.0,874.2 L611.0,875.4 L613.0,876.6 L615.0,877.8 L617.0,879.1 L619.0,880.4 L621.0,881.7 L623.0,883.1 L625.0,884.4 L627.0,885.8 L629.0,887.2 L631.0,888.5 L633.0,889.8 L635.0,891.2 L637.0,892.5 L639.0,893.7 L641.0,895.0 L643.0,896.2 L645.0,897.3 L647.0,898.4 L649.0,899.5 L651.0,900.5 L653.0,901.5 L655.0,902.5 L657.0,903.5 L659.0,904.5 L661.0,905.4 L663.0,906.4 L665.0,907.4 L667.0,908.4 L669.0,909.3 L671.0,910.2 L673.0,911.2 L675.0,912.0 L677.0,912.9 L679.0,913.7 L681.0,914.5 L683.0,915.3 L685.0,916.0 L687.0,916.7 L689.0,917.3 L691.0,917.9 L693.0,918.5 L695.0,919.0 L697.0,919.4 L699.0,919.8 L701.0,920.1 L703.0,920.5 L705.0,920.8 L707.0,921.1 L709.0,921.4 L711.0,921.7 L713.0,922.0 L715.0,922.2 L717.0,922.5 L719.0,922.8 L721.0,923.1 L723.0,923.3 L725.0,923.6 L727.0,923.8 L729.0,924.1 L731.0,924.3 L733.0,924.6 L735.0,924.8 L737.0,925.0 L739.0,925.2 L741.0,925.4 L743.0,925.6 L745.0,925.8 L747.0,926.0 L749.0,926.2 L751.0,926.4 L753.0,926.5 L755.0,926.7 L757.0,926.8 L759.0,927.0 L761.0,927.1 L763.0,927.2 L765.0,927.3 L767.0,927.4 L769.0,927.5 L771.0,927.6 L773.0,927.7 L775.0,927.8 L777.0,927.8 L779.0,927.9 L781.0,927.9 L783.0,928.0 L785.0,928.0 L787.0,928.0 L788.0,928.0" stroke="#262626" stroke-width="1.9"/>
<path d="M236.0,939.0 L238.0,938.9 L240.0,938.9 L242.0,938.8 L244.0,938.7 L246.0,938.6 L248.0,938.5 L250.0,938.3 L252.0,938.2 L254.0,938.0 L256.0,937.8 L258.0,937.6 L260.0,937.4 L262.0,937.2 L264.0,937.0 L266.0,936.8 L268.0,936.5 L270.0,936.3 L272.0,936.0 L274.0,935.8 L276.0,935.5 L278.0,935.2 L280.0,935.0 L282.0,934.7 L284.0,934.4 L286.0,934.1 L288.0,933.8 L290.0,933.5 L292.0,933.1 L294.0,932.7 L296.0,932.3 L298.0,931.8 L300.0,931.3 L302.0,930.8 L304.0,930.3 L306.0,929.7 L308.0,929.2 L310.0,928.6 L312.0,928.0 L314.0,927.4 L316.0,926.8 L318.0,926.2 L320.0,925.6 L322.0,925.0 L324.0,924.4 L326.0,923.8 L328.0,923.2 L330.0,922.7 L332.0,922.1 L334.0,921.6 L336.0,921.1 L338.0,920.7 L340.0,920.2 L342.0,919.8 L344.0,919.4 L346.0,919.1 L348.0,918.7 L350.0,918.3 L352.0,918.0 L354.0,917.7 L356.0,917.4 L358.0,917.1 L360.0,916.7 L362.0,916.4 L364.0,916.2 L366.0,915.9 L368.0,915.6 L370.0,915.3 L372.0,915.0 L374.0,914.7 L376.0,914.4 L378.0,914.1 L380.0,913.8 L382.0,913.5 L384.0,913.1 L386.0,912.8 L388.0,912.5 L390.0,912.1 L392.0,911.8 L394.0,911.4 L396.0,911.0 L398.0,910.6 L400.0,910.2 L402.0,909.8 L404.0,909.3 L406.0,908.9 L408.0,908.5 L410.0,908.1 L412.0,907.6 L414.0,907.2 L416.0,906.7 L418.0,906.2 L420.0,905.8 L422.0,905.3 L424.0,904.8 L426.0,904.3 L428.0,903.8 L430.0,903.3 L432.0,902.8 L434.0,902.2 L436.0,901.7 L438.0,901.2 L440.0,900.6 L442.0,900.0 L444.0,899.5 L446.0,898.9 L448.0,898.3 L450.0,897.7 L452.0,897.1 L454.0,896.5 L456.0,895.9 L458.0,895.3 L460.0,894.6 L462.0,894.0 L464.0,893.3 L466.0,892.6 L468.0,891.9 L470.0,891.2 L472.0,890.4 L474.0,889.6 L476.0,888.7 L478.0,887.9 L480.0,887.0 L482.0,886.1 L484.0,885.2 L486.0,884.3 L488.0,883.3 L490.0,882.4 L492.0,881.5 L494.0,880.6 L496.0,879.7 L498.0,878.9 L500.0,878.0 L502.0,877.1 L504.0,876.2 L506.0,875.3 L508.0,874.3 L510.0,873.3 L512.0,872.4 L514.0,871.4 L516.0,870.4 L518.0,869.5 L520.0,868.5 L522.0,867.7 L524.0,866.8 L526.0,866.0 L528.0,865.3 L530.0,864.7 L532.0,864.1 L534.0,863.6 L536.0,863.2 L538.0,862.9 L540.0,862.6 L542.0,862.4 L544.0,862.1 L546.0,861.9 L548.0,861.7 L550.0,861.5 L552.0,861.3 L554.0,861.2 L556.0,861.1 L558.0,861.1 L560.0,861.1 L562.0,861.2 L564.0,861.4 L566.0,861.7 L568.0,862.0 L570.0,862.5 L572.0,863.0 L574.0,863.5 L576.0,864.1 L578.0,864.8 L580.0,865.4 L582.0,866.0 L584.0,866.7 L586.0,867.4 L588.0,868.2 L590.0,869.1 L592.0,870.0 L594.0,871.0 L596.0,872.0 L598.0,873.0 L600.0,874.1 L602.0,875.3 L604.0,876.4 L606.0,877.6 L608.0,878.8 L610.0,880.0 L612.0,881.2 L614.0,882.4 L616.0,883.6 L618.0,884.8 L620.0,886.0 L622.0,887.2 L624.0,888.3 L626.0,889.4 L628.0,890.6 L630.0,891.7 L632.0,892.8 L634.0,893.9 L636.0,895.1 L638.0,896.3 L640.0,897.4 L642.0,898.6 L644.0,899.7 L646.0,900.9 L648.0,902.0 L650.0,903.1 L652.0,904.1 L654.0,905.1 L656.0,906.1 L658.0,907.1 L660.0,908.0 L662.0,908.9 L664.0,909.8 L666.0,910.7 L668.0,911.7 L670.0,912.6 L672.0,913.5 L674.0,914.5 L676.0,915.4 L678.0,916.3 L680.0,917.1 L682.0,917.9 L684.0,918.7 L686.0,919.3 L688.0,920.0 L690.0,920.5 L692.0,921.0 L694.0,921.4 L696.0,921.6 L698.0,921.8 L700.0,921.9 L702.0,921.8 L704.0,921.7 L706.0,921.5 L708.0,921.2 L710.0,920.8 L712.0,920.4 L714.0,919.9 L716.0,919.3 L718.0,918.7 L720.0,918.1 L722.0,917.5 L724.0,916.8 L726.0,916.2 L728.0,915.5 L730.0,914.9 L732.0,914.2 L734.0,913.6 L736.0,913.1 L738.0,912.5 L740.0,912.0 L742.0,911.6 L744.0,911.1 L746.0,910.6 L748.0,910.2 L750.0,909.8 L752.0,909.3 L754.0,908.9 L756.0,908.5 L758.0,908.0 L760.0,907.6 L762.0,907.2 L764.0,906.8 L766.0,906.3 L768.0,905.9 L770.0,905.5 L772.0,905.1 L774.0,904.7 L776.0,904.3 L778.0,903.9 L780.0,903.5 L782.0,903.1 L784.0,902.8 L786.0,902.4 L788.0,902.0" stroke="#262626" stroke-width="1.9"/>
<path d="M236.0,912.0 L238.0,912.8 L240.0,913.6 L242.0,914.4 L244.0,915.2 L246.0,916.0 L248.0,916.7 L250.0,917.5 L252.0,918.3 L254.0,919.0 L256.0,919.8 L258.0,920.6 L260.0,921.3 L262.0,922.1 L264.0,922.8 L266.0,923.5 L268.0,924.3 L270.0,925.0 L272.0,925.7 L274.0,926.4 L276.0,927.2 L278.0,927.9 L280.0,928.6 L282.0,929.3 L284.0,930.0 L286.0,930.7 L288.0,931.3 L290.0,932.0 L292.0,932.7 L294.0,933.4 L296.0,934.1 L298.0,934.8 L300.0,935.5 L302.0,936.2 L304.0,936.9 L306.0,937.6 L308.0,938.2 L310.0,938.9 L312.0,939.6 L314.0,940.2 L316.0,940.9 L318.0,941.5 L320.0,942.2 L322.0,942.8 L324.0,943.4 L326.0,944.0 L328.0,944.6 L330.0,945.2 L332.0,945.7 L334.0,946.2 L336.0,946.8 L338.0,947.3 L340.0,947.7 L342.0,948.2 L344.0,948.7 L346.0,949.1 L348.0,949.6 L350.0,950.0 L352.0,950.5 L354.0,950.9 L356.0,951.4 L358.0,951.8 L360.0,952.2 L362.0,952.6 L364.0,953.0 L366.0,953.4 L368.0,953.8 L370.0,954.2 L372.0,954.5 L374.0,954.9 L376.0,955.2 L378.0,955.6 L380.0,955.9 L382.0,956.2 L384.0,956.5 L386.0,956.8 L388.0,957.1 L390.0,957.3 L392.0,957.5 L394.0,957.8 L396.0,958.0 L398.0,958.2 L400.0,958.4 L402.0,958.6 L404.0,958.8 L406.0,959.0 L408.0,959.2 L410.0,959.4 L412.0,959.5 L414.0,959.7 L416.0,959.8 L418.0,959.9 L420.0,959.9 L422.0,959.9 L424.0,959.9 L426.0,959.7 L428.0,959.5 L430.0,959.1 L432.0,958.6 L434.0,958.0 L436.0,957.3 L438.0,956.5 L440.0,955.6 L442.0,954.6 L444.0,953.5 L446.0,952.4 L448.0,951.2 L450.0,949.9 L452.0,948.6 L454.0,947.2 L456.0,945.8 L458.0,944.3 L460.0,942.8 L462.0,941.3 L464.0,939.7 L466.0,937.9 L468.0,935.9 L470.0,933.7 L472.0,931.2 L474.0,928.4 L476.0,925.4 L478.0,922.3 L480.0,918.9 L482.0,915.5 L484.0,912.0 L486.0,908.5 L488.0,905.0 L490.0,901.5 L492.0,897.9 L494.0,894.4 L496.0,890.7 L498.0,886.9 L500.0,883.1 L502.0,879.2 L504.0,875.3 L506.0,871.4 L508.0,867.5 L510.0,863.7 L512.0,860.1 L514.0,856.4 L516.0,852.8 L518.0,849.2 L520.0,845.7 L522.0,842.3 L524.0,839.0 L526.0,835.8 L528.0,832.9 L530.0,830.2 L532.0,827.6 L534.0,825.1 L536.0,822.7 L538.0,820.5 L540.0,818.3 L542.0,816.3 L544.0,814.5 L546.0,812.8 L548.0,811.4 L550.0,810.2 L552.0,809.0 L554.0,808.0 L556.0,807.1 L558.0,806.2 L560.0,805.5 L562.0,804.9 L564.0,804.5 L566.0,804.3 L568.0,804.2 L570.0,804.3 L572.0,804.5 L574.0,804.9 L576.0,805.3 L578.0,805.8 L580.0,806.4 L582.0,807.1 L584.0,807.8 L586.0,808.6 L588.0,809.5 L590.0,810.6 L592.0,811.9 L594.0,813.3 L596.0,814.9 L598.0,816.4 L600.0,818.1 L602.0,819.8 L604.0,821.6 L606.0,823.4 L608.0,825.4 L610.0,827.5 L612.0,829.6 L614.0,831.8 L616.0,834.0 L618.0,836.3 L620.0,838.6 L622.0,840.9 L624.0,843.2 L626.0,845.5 L628.0,847.7 L630.0,850.0 L632.0,852.3 L634.0,854.6 L636.0,856.9 L638.0,859.3 L640.0,861.7 L642.0,864.1 L644.0,866.5 L646.0,868.9 L648.0,871.3 L650.0,873.7 L652.0,876.1 L654.0,878.4 L656.0,880.6 L658.0,882.8 L660.0,884.9 L662.0,887.0 L664.0,889.0 L666.0,890.9 L668.0,892.9 L670.0,894.8 L672.0,896.8 L674.0,898.8 L676.0,900.8 L678.0,902.7 L680.0,904.7 L682.0,906.6 L684.0,908.5 L686.0,910.4 L688.0,912.1 L690.0,913.9 L692.0,915.5 L694.0,917.0 L696.0,918.5 L698.0,919.8 L700.0,921.0 L702.0,922.1 L704.0,923.0 L706.0,923.8 L708.0,924.4 L710.0,924.9 L712.0,925.3 L714.0,925.7 L716.0,926.0 L718.0,926.3 L720.0,926.6 L722.0,926.9 L724.0,927.2 L726.0,927.5 L728.0,927.8 L730.0,928.1 L732.0,928.3 L734.0,928.6 L736.0,928.8 L738.0,929.0 L740.0,929.3 L742.0,929.5 L744.0,929.7 L746.0,929.9 L748.0,930.1 L750.0,930.3 L752.0,930.4 L754.0,930.6 L756.0,930.8 L758.0,930.9 L760.0,931.0 L762.0,931.2 L764.0,931.3 L766.0,931.4 L768.0,931.5 L770.0,931.6 L772.0,931.7 L774.0,931.8 L776.0,931.8 L778.0,931.9 L780.0,931.9 L782.0,931.9 L784.0,932.0 L786.0,932.0 L788.0,932.0" stroke="#262626" stroke-width="1.9"/>
<path d="M237.0,953.0 L239.0,953.1 L241.0,953.1 L243.0,953.2 L245.0,953.3 L247.0,953.3 L249.0,953.4 L251.0,953.5 L253.0,953.5 L255.0,953.6 L257.0,953.6 L259.0,953.7 L261.0,953.7 L263.0,953.7 L265.0,953.8 L267.0,953.8 L269.0,953.8 L271.0,953.8 L273.0,953.9 L275.0,953.9 L277.0,953.9 L279.0,953.9 L281.0,953.9 L283.0,954.0 L285.0,954.0 L287.0,954.0 L289.0,954.0 L291.0,954.0 L293.0,954.0 L295.0,954.0 L297.0,954.0 L299.0,954.0 L301.0,954.0 L303.0,954.0 L305.0,953.9 L307.0,953.9 L309.0,953.9 L311.0,953.8 L313.0,953.8 L315.0,953.7 L317.0,953.6 L319.0,953.6 L321.0,953.5 L323.0,953.4 L325.0,953.3 L327.0,953.3 L329.0,953.2 L331.0,953.2 L333.0,953.1 L335.0,953.1 L337.0,953.0 L339.0,953.0 L341.0,953.0 L343.0,953.1 L345.0,953.2 L347.0,953.3 L349.0,953.5 L351.0,953.7 L353.0,953.9 L355.0,954.2 L357.0,954.4 L359.0,954.7 L361.0,955.0 L363.0,955.3 L365.0,955.5 L367.0,955.8 L369.0,956.0 L371.0,956.2 L373.0,956.5 L375.0,956.7 L377.0,956.9 L379.0,957.2 L381.0,957.4 L383.0,957.7 L385.0,958.0 L387.0,958.2 L389.0,958.5 L391.0,958.7 L393.0,958.9 L395.0,959.1 L397.0,959.3 L399.0,959.5 L401.0,959.6 L403.0,959.8 L405.0,959.9 L407.0,959.9 L409.0,960.0 L411.0,960.0 L413.0,959.9 L415.0,959.8 L417.0,959.7 L419.0,959.6 L421.0,959.4 L423.0,959.2 L425.0,958.9 L427.0,958.7 L429.0,958.4 L431.0,958.0 L433.0,957.6 L435.0,957.2 L437.0,956.8 L439.0,956.3 L441.0,955.8 L443.0,955.3 L445.0,954.8 L447.0,954.2 L449.0,953.5 L451.0,952.7 L453.0,951.7 L455.0,950.4 L457.0,948.8 L459.0,946.9 L461.0,944.8 L463.0,942.5 L465.0,940.1 L467.0,937.7 L469.0,935.2 L471.0,932.7 L473.0,930.1 L475.0,927.3 L477.0,924.5 L479.0,921.6 L481.0,918.5 L483.0,915.4 L485.0,912.2 L487.0,909.0 L489.0,905.8 L491.0,902.6 L493.0,899.3 L495.0,895.9 L497.0,892.4 L499.0,888.9 L501.0,885.3 L503.0,881.7 L505.0,878.1 L507.0,874.6 L509.0,871.3 L511.0,868.0 L513.0,865.0 L515.0,862.1 L517.0,859.4 L519.0,856.7 L521.0,854.0 L523.0,851.4 L525.0,848.9 L527.0,846.4 L529.0,844.1 L531.0,842.0 L533.0,840.1 L535.0,838.4 L537.0,836.9 L539.0,835.7 L541.0,834.7 L543.0,833.8 L545.0,833.0 L547.0,832.3 L549.0,831.6 L551.0,830.9 L553.0,830.3 L555.0,829.7 L557.0,829.3 L559.0,828.9 L561.0,828.5 L563.0,828.3 L565.0,828.2 L567.0,828.2 L569.0,828.3 L571.0,828.5 L573.0,828.9 L575.0,829.5 L577.0,830.1 L579.0,830.9 L581.0,831.9 L583.0,832.9 L585.0,834.1 L587.0,835.3 L589.0,836.6 L591.0,838.0 L593.0,839.5 L595.0,841.0 L597.0,842.7 L599.0,844.4 L601.0,846.5 L603.0,849.0 L605.0,852.1 L607.0,855.6 L609.0,859.6 L611.0,863.8 L613.0,868.3 L615.0,872.9 L617.0,877.5 L619.0,882.0 L621.0,886.2 L623.0,890.0 L625.0,893.5 L627.0,896.6 L629.0,899.3 L631.0,901.8 L633.0,904.2 L635.0,906.4 L637.0,908.5 L639.0,910.5 L641.0,912.4 L643.0,914.2 L645.0,915.9 L647.0,917.6 L649.0,919.2 L651.0,920.7 L653.0,922.3 L655.0,923.8 L657.0,925.3 L659.0,926.8 L661.0,928.3 L663.0,929.8 L665.0,931.2 L667.0,932.5 L669.0,933.7 L671.0,934.9 L673.0,936.0 L675.0,937.0 L677.0,937.9 L679.0,938.6 L681.0,939.2 L683.0,939.7 L685.0,940.1 L687.0,940.4 L689.0,940.7 L691.0,940.9 L693.0,941.2 L695.0,941.4 L697.0,941.6 L699.0,941.7 L701.0,941.8 L703.0,941.9 L705.0,942.0 L707.0,942.0 L709.0,941.9 L711.0,941.9 L713.0,941.8 L715.0,941.7 L717.0,941.6 L719.0,941.5 L721.0,941.3 L723.0,941.2 L725.0,941.1 L727.0,940.9 L729.0,940.7 L731.0,940.6 L733.0,940.4 L735.0,940.3 L737.0,940.2 L739.0,940.1 L741.0,940.0 L743.0,939.9 L745.0,939.8 L747.0,939.7 L749.0,939.6 L751.0,939.5 L753.0,939.4 L755.0,939.3 L757.0,939.2 L759.0,939.1 L761.0,939.0 L763.0,938.9 L765.0,938.9 L767.0,938.8 L769.0,938.7 L771.0,938.6 L773.0,938.5 L775.0,938.5 L777.0,938.4 L779.0,938.3 L781.0,938.2 L783.0,938.2 L785.0,938.1 L787.0,938.0 L788.0,938.0" stroke="#262626" stroke-width="1.9"/>
<path d="M236.0,930.0 L238.0,930.0 L240.0,930.0 L242.0,930.1 L244.0,930.1 L246.0,930.1 L248.0,930.1 L250.0,930.1 L252.0,930.2 L254.0,930.2 L256.0,930.2 L258.0,930.2 L260.0,930.2 L262.0,930.3 L264.0,930.3 L266.0,930.3 L268.0,930.3 L270.0,930.3 L272.0,930.4 L274.0,930.4 L276.0,930.4 L278.0,930.4 L280.0,930.4 L282.0,930.5 L284.0,930.5 L286.0,930.5 L288.0,930.5 L290.0,930.5 L292.0,930.6 L294.0,930.6 L296.0,930.6 L298.0,930.6 L300.0,930.6 L302.0,930.7 L304.0,930.7 L306.0,930.7 L308.0,930.7 L310.0,930.8 L312.0,930.8 L314.0,930.8 L316.0,930.8 L318.0,930.9 L320.0,930.9 L322.0,930.9 L324.0,930.9 L326.0,930.9 L328.0,930.9 L330.0,931.0 L332.0,931.0 L334.0,931.0 L336.0,931.0 L338.0,931.0 L340.0,931.0 L342.0,931.0 L344.0,931.0 L346.0,931.0 L348.0,931.0 L350.0,931.0 L352.0,931.0 L354.0,931.0 L356.0,931.0 L358.0,931.0 L360.0,931.0 L362.0,931.0 L364.0,931.0 L366.0,931.0 L368.0,931.0 L370.0,931.0 L372.0,931.0 L374.0,931.0 L376.0,931.0 L378.0,931.0 L380.0,931.0 L382.0,931.0 L384.0,931.0 L386.0,931.0 L388.0,931.0 L390.0,931.0 L392.0,931.0 L394.0,931.0 L396.0,931.0 L398.0,931.0 L400.0,930.9 L402.0,930.9 L404.0,930.8 L406.0,930.7 L408.0,930.5 L410.0,930.4 L412.0,930.2 L414.0,930.0 L416.0,929.8 L418.0,929.6 L420.0,929.4 L422.0,929.1 L424.0,928.8 L426.0,928.6 L428.0,928.3 L430.0,927.9 L432.0,927.5 L434.0,927.0 L436.0,926.4 L438.0,925.7 L440.0,924.9 L442.0,924.0 L444.0,923.0 L446.0,921.9 L448.0,920.7 L450.0,919.5 L452.0,918.2 L454.0,916.9 L456.0,915.5 L458.0,914.1 L460.0,912.6 L462.0,911.1 L464.0,909.6 L466.0,908.1 L468.0,906.5 L470.0,904.9 L472.0,903.2 L474.0,901.4 L476.0,899.5 L478.0,897.4 L480.0,895.3 L482.0,893.0 L484.0,890.7 L486.0,888.3 L488.0,885.9 L490.0,883.5 L492.0,881.1 L494.0,878.8 L496.0,876.5 L498.0,874.2 L500.0,872.1 L502.0,869.9 L504.0,867.8 L506.0,865.7 L508.0,863.6 L510.0,861.5 L512.0,859.5 L514.0,857.4 L516.0,855.4 L518.0,853.4 L520.0,851.4 L522.0,849.5 L524.0,847.5 L526.0,845.7 L528.0,843.8 L530.0,842.0 L532.0,840.2 L534.0,838.4 L536.0,836.7 L538.0,834.9 L540.0,833.2 L542.0,831.6 L544.0,830.1 L546.0,828.6 L548.0,827.3 L550.0,826.1 L552.0,824.9 L554.0,823.8 L556.0,822.7 L558.0,821.7 L560.0,820.9 L562.0,820.1 L564.0,819.6 L566.0,819.3 L568.0,819.2 L570.0,819.3 L572.0,819.5 L574.0,819.9 L576.0,820.3 L578.0,820.8 L580.0,821.4 L582.0,822.0 L584.0,822.8 L586.0,823.6 L588.0,824.6 L590.0,825.9 L592.0,827.3 L594.0,828.8 L596.0,830.5 L598.0,832.3 L600.0,834.1 L602.0,836.0 L604.0,838.0 L606.0,840.2 L608.0,842.5 L610.0,844.9 L612.0,847.3 L614.0,849.9 L616.0,852.4 L618.0,855.0 L620.0,857.6 L622.0,860.2 L624.0,862.7 L626.0,865.2 L628.0,867.6 L630.0,870.0 L632.0,872.3 L634.0,874.6 L636.0,877.0 L638.0,879.4 L640.0,881.8 L642.0,884.2 L644.0,886.6 L646.0,889.0 L648.0,891.3 L650.0,893.7 L652.0,895.9 L654.0,898.1 L656.0,900.2 L658.0,902.2 L660.0,904.2 L662.0,906.0 L664.0,907.6 L666.0,909.2 L668.0,910.6 L670.0,911.9 L672.0,913.1 L674.0,914.3 L676.0,915.4 L678.0,916.6 L680.0,917.7 L682.0,918.8 L684.0,919.9 L686.0,921.0 L688.0,922.1 L690.0,923.1 L692.0,924.1 L694.0,925.1 L696.0,926.0 L698.0,926.9 L700.0,927.8 L702.0,928.6 L704.0,929.4 L706.0,930.2 L708.0,930.9 L710.0,931.6 L712.0,932.2 L714.0,932.7 L716.0,933.2 L718.0,933.7 L720.0,934.0 L722.0,934.3 L724.0,934.6 L726.0,934.8 L728.0,934.9 L730.0,935.0 L732.0,935.0 L734.0,935.0 L736.0,935.0 L738.0,935.0 L740.0,935.0 L742.0,934.9 L744.0,934.9 L746.0,934.9 L748.0,934.8 L750.0,934.8 L752.0,934.7 L754.0,934.6 L756.0,934.5 L758.0,934.4 L760.0,934.3 L762.0,934.1 L764.0,934.0 L766.0,933.8 L768.0,933.6 L770.0,933.3 L772.0,933.1 L774.0,932.8 L776.0,932.5 L778.0,932.1 L780.0,931.8 L782.0,931.4 L784.0,930.9 L786.0,930.5 L788.0,930.0" stroke="#262626" stroke-width="1.9"/>
<path d="M237.0,942.0 L239.0,942.2 L241.0,942.3 L243.0,942.5 L245.0,942.6 L247.0,942.8 L249.0,942.9 L251.0,943.1 L253.0,943.2 L255.0,943.4 L257.0,943.5 L259.0,943.6 L261.0,943.8 L263.0,943.9 L265.0,944.0 L267.0,944.1 L269.0,944.2 L271.0,944.3 L273.0,944.4 L275.0,944.5 L277.0,944.6 L279.0,944.7 L281.0,944.8 L283.0,944.9 L285.0,944.9 L287.0,945.0 L289.0,945.1 L291.0,945.1 L293.0,945.2 L295.0,945.2 L297.0,945.3 L299.0,945.3 L301.0,945.4 L303.0,945.4 L305.0,945.5 L307.0,945.5 L309.0,945.6 L311.0,945.6 L313.0,945.7 L315.0,945.7 L317.0,945.7 L319.0,945.8 L321.0,945.8 L323.0,945.9 L325.0,945.9 L327.0,945.9 L329.0,945.9 L331.0,945.9 L333.0,946.0 L335.0,946.0 L337.0,946.0 L339.0,946.0 L341.0,946.0 L343.0,946.0 L345.0,945.9 L347.0,945.8 L349.0,945.7 L351.0,945.6 L353.0,945.5 L355.0,945.3 L357.0,945.1 L359.0,944.9 L361.0,944.7 L363.0,944.4 L365.0,944.2 L367.0,943.9 L369.0,943.6 L371.0,943.3 L373.0,943.0 L375.0,942.6 L377.0,942.3 L379.0,942.0 L381.0,941.6 L383.0,941.3 L385.0,940.9 L387.0,940.6 L389.0,940.2 L391.0,939.9 L393.0,939.5 L395.0,939.2 L397.0,938.8 L399.0,938.5 L401.0,938.1 L403.0,937.8 L405.0,937.4 L407.0,937.0 L409.0,936.6 L411.0,936.2 L413.0,935.8 L415.0,935.4 L417.0,934.9 L419.0,934.4 L421.0,933.9 L423.0,933.4 L425.0,932.9 L427.0,932.3 L429.0,931.7 L431.0,931.1 L433.0,930.5 L435.0,929.8 L437.0,929.1 L439.0,928.3 L441.0,927.5 L443.0,926.5 L445.0,925.4 L447.0,924.2 L449.0,922.9 L451.0,921.4 L453.0,919.9 L455.0,918.4 L457.0,916.7 L459.0,915.1 L461.0,913.4 L463.0,911.7 L465.0,910.0 L467.0,908.2 L469.0,906.4 L471.0,904.5 L473.0,902.5 L475.0,900.5 L477.0,898.4 L479.0,896.4 L481.0,894.3 L483.0,892.2 L485.0,890.1 L487.0,888.1 L489.0,886.0 L491.0,884.1 L493.0,882.2 L495.0,880.3 L497.0,878.4 L499.0,876.5 L501.0,874.7 L503.0,872.8 L505.0,871.0 L507.0,869.0 L509.0,867.1 L511.0,865.1 L513.0,863.0 L515.0,860.8 L517.0,858.5 L519.0,855.9 L521.0,853.3 L523.0,850.5 L525.0,847.7 L527.0,845.0 L529.0,842.4 L531.0,839.9 L533.0,837.8 L535.0,835.9 L537.0,834.3 L539.0,832.9 L541.0,831.8 L543.0,830.7 L545.0,829.8 L547.0,828.9 L549.0,828.2 L551.0,827.6 L553.0,827.1 L555.0,826.7 L557.0,826.3 L559.0,826.0 L561.0,825.7 L563.0,825.4 L565.0,825.3 L567.0,825.2 L569.0,825.2 L571.0,825.3 L573.0,825.7 L575.0,826.1 L577.0,826.8 L579.0,827.5 L581.0,828.2 L583.0,829.1 L585.0,830.0 L587.0,831.0 L589.0,832.1 L591.0,833.4 L593.0,834.7 L595.0,836.2 L597.0,837.7 L599.0,839.3 L601.0,841.0 L603.0,842.9 L605.0,844.9 L607.0,847.1 L609.0,849.3 L611.0,851.7 L613.0,854.0 L615.0,856.4 L617.0,858.8 L619.0,861.2 L621.0,863.6 L623.0,866.1 L625.0,868.6 L627.0,871.1 L629.0,873.6 L631.0,876.1 L633.0,878.4 L635.0,880.7 L637.0,882.9 L639.0,884.9 L641.0,886.9 L643.0,888.8 L645.0,890.6 L647.0,892.4 L649.0,894.1 L651.0,895.8 L653.0,897.4 L655.0,898.9 L657.0,900.3 L659.0,901.7 L661.0,902.9 L663.0,904.1 L665.0,905.3 L667.0,906.5 L669.0,907.6 L671.0,908.7 L673.0,909.8 L675.0,910.8 L677.0,911.8 L679.0,912.8 L681.0,913.6 L683.0,914.5 L685.0,915.2 L687.0,915.9 L689.0,916.6 L691.0,917.1 L693.0,917.6 L695.0,917.9 L697.0,918.3 L699.0,918.5 L701.0,918.8 L703.0,919.0 L705.0,919.2 L707.0,919.4 L709.0,919.6 L711.0,919.8 L713.0,919.9 L715.0,920.1 L717.0,920.2 L719.0,920.3 L721.0,920.5 L723.0,920.6 L725.0,920.7 L727.0,920.9 L729.0,921.0 L731.0,921.2 L733.0,921.3 L735.0,921.5 L737.0,921.7 L739.0,921.9 L741.0,922.1 L743.0,922.3 L745.0,922.6 L747.0,922.8 L749.0,923.1 L751.0,923.3 L753.0,923.6 L755.0,923.8 L757.0,924.1 L759.0,924.4 L761.0,924.7 L763.0,925.0 L765.0,925.3 L767.0,925.6 L769.0,925.9 L771.0,926.2 L773.0,926.5 L775.0,926.8 L777.0,927.1 L779.0,927.5 L781.0,927.8 L783.0,928.1 L785.0,928.5 L787.0,928.8 L788.0,929.0" stroke="#a8383a" stroke-width="1.8"/>
</g>
<g stroke="#555" stroke-width="2.2" fill="none">
<path d="M228,695.5 H788 V962 H237 V695.5"/>
<path d="M237,962 V967 M228,962 H237"/>
<path d="M228,733.6 H242 M228,771.6 H242 M228,809.7 H242 M228,847.8 H242 M228,885.9 H242 M228,923.9 H242"/>
<path d="M348,956 V968 M456,956 V968 M567,956 V968 M677,956 V968 M788,962 V967"/>
</g>

<!-- logo -->
<g>
<circle cx="919" cy="287" r="65" fill="#f3c56a"/>
<circle cx="919" cy="287" r="63" fill="#dc4a27"/>
<g clip-path="url(#lc)" fill="none" stroke="#f6d079" stroke-width="2.1">
<circle cx="951.0" cy="287.0" r="32"/>
<circle cx="946.7" cy="303.0" r="32"/>
<circle cx="935.0" cy="314.7" r="32"/>
<circle cx="919.0" cy="319.0" r="32"/>
<circle cx="903.0" cy="314.7" r="32"/>
<circle cx="891.3" cy="303.0" r="32"/>
<circle cx="887.0" cy="287.0" r="32"/>
<circle cx="891.3" cy="271.0" r="32"/>
<circle cx="903.0" cy="259.3" r="32"/>
<circle cx="919.0" cy="255.0" r="32"/>
<circle cx="935.0" cy="259.3" r="32"/>
<circle cx="946.7" cy="271.0" r="32"/>

</g>
<path d="M908.8,238.9 L929.8,238.9 L936.9,254.5 L954.8,255.3 L965.8,270.9 L956.4,287.3 L965.8,303.8 L954.8,319.4 L936.9,320.2 L929.1,335 L908.8,335 L900.9,320.2 L882.2,319.4 L872,303.8 L881.4,287.3 L872,270.9 L882.2,255.3 L900.9,254.5 Z" fill="#fff" stroke="#111" stroke-width="3"/>
<g transform="translate(890,258) scale(0.05859)">
<path fill="#111" d="M140,120 C180,105 250,105 330,105 L690,105 C800,110 905,170 905,270 C905,330 860,370 810,365 C750,360 720,310 725,250 C720,190 680,160 600,158 L480,158 C430,160 412,190 412,250 L412,750 C412,800 440,835 520,835 L620,832 C680,830 700,815 720,790 L740,850 C700,870 640,880 560,880 L150,880 C130,880 135,860 150,850 C200,820 225,800 225,760 L225,220 C225,180 200,150 140,130 Z"/>
<path fill="none" stroke="#111" stroke-width="42" d="M560,858 C650,858 700,840 730,790 C770,720 800,640 850,635 C900,630 900,700 860,760 C820,820 750,850 640,860"/>
<path fill="none" stroke="#111" stroke-width="40" d="M410,390 C500,380 620,410 680,470 C710,520 650,560 590,540 C530,520 500,450 430,410"/>
</g>
</g>
</svg>
</body></html>
